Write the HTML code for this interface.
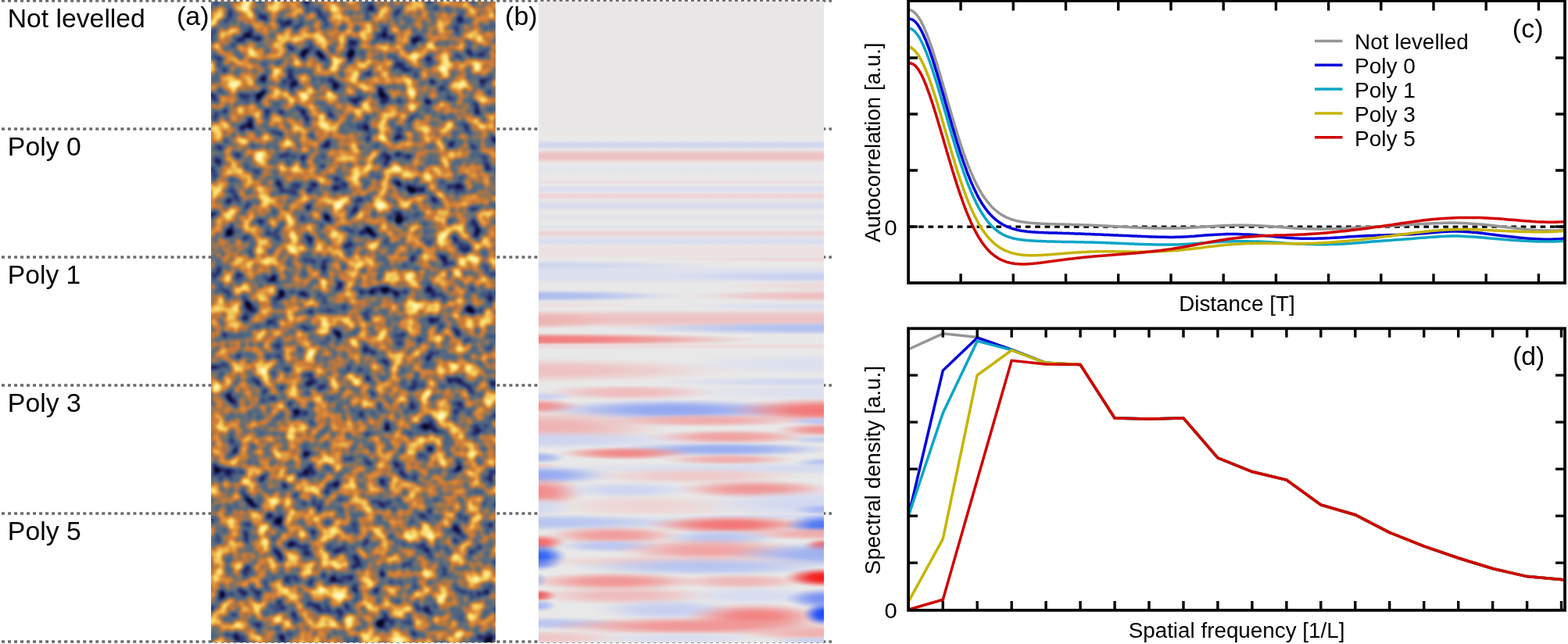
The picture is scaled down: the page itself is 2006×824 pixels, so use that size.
<!DOCTYPE html>
<html><head><meta charset="utf-8"><title>Levelling figure</title>
<style>html,body{margin:0;padding:0;background:#fff;overflow:hidden}svg{display:block}</style>
</head><body>
<svg width="2006" height="824" viewBox="0 0 2006 824" font-family="'Liberation Sans', Arial, sans-serif">
<defs>
<clipPath id="cc"><rect x="1162" y="1" width="840" height="360.5"/></clipPath>
<clipPath id="cd"><rect x="1162" y="420.3" width="840" height="360.2"/></clipPath>
<filter id="nz" x="-3%" y="-1%" width="106%" height="102%" color-interpolation-filters="sRGB">
<feTurbulence type="fractalNoise" baseFrequency="0.052" numOctaves="2" seed="7"/>
<feColorMatrix type="matrix" values="1 0 0 0 0 1 0 0 0 0 1 0 0 0 0 0 0 0 0 1"/>
<feComponentTransfer>
<feFuncR type="table" tableValues="0.031 0.031 0.031 0.031 0.031 0.031 0.031 0.031 0.071 0.113 0.143 0.174 0.204 0.234 0.265 0.296 0.331 0.366 0.401 0.492 0.596 0.683 0.771 0.808 0.841 0.874 0.904 0.934 0.953 0.968 0.982 0.988 0.994 1.000 1.000 1.000 1.000 1.000 1.000 1.000 1.000"/>
<feFuncG type="table" tableValues="0.031 0.031 0.031 0.031 0.031 0.031 0.031 0.031 0.071 0.114 0.161 0.208 0.256 0.304 0.352 0.394 0.408 0.422 0.437 0.446 0.455 0.463 0.470 0.499 0.529 0.576 0.652 0.728 0.783 0.831 0.877 0.910 0.943 0.973 0.973 0.973 0.973 0.973 0.973 0.973 0.973"/>
<feFuncB type="table" tableValues="0.118 0.118 0.118 0.118 0.118 0.118 0.118 0.118 0.227 0.342 0.386 0.430 0.468 0.488 0.508 0.522 0.504 0.485 0.466 0.403 0.329 0.276 0.223 0.222 0.225 0.239 0.273 0.306 0.351 0.400 0.458 0.557 0.656 0.745 0.745 0.745 0.745 0.745 0.745 0.745 0.745"/>
</feComponentTransfer>
<feGaussianBlur stdDeviation="1.3"/>
</filter>
</defs>
<rect width="2006" height="824" fill="#fff"/>

<line x1="2" y1="1" x2="1064" y2="1" stroke="#6b6b6b" stroke-width="3.5" stroke-dasharray="4 4.018"/>
<line x1="2" y1="165" x2="1064" y2="165" stroke="#6b6b6b" stroke-width="3.5" stroke-dasharray="4 4.018"/>
<line x1="2" y1="329" x2="1064" y2="329" stroke="#6b6b6b" stroke-width="3.5" stroke-dasharray="4 4.018"/>
<line x1="2" y1="493" x2="1064" y2="493" stroke="#6b6b6b" stroke-width="3.5" stroke-dasharray="4 4.018"/>
<line x1="2" y1="657" x2="1064" y2="657" stroke="#6b6b6b" stroke-width="3.5" stroke-dasharray="4 4.018"/>
<line x1="2" y1="821" x2="1064" y2="821" stroke="#6b6b6b" stroke-width="3.5" stroke-dasharray="4 4.018"/>
<clipPath id="ca"><rect x="270" y="2" width="364" height="820"/></clipPath>
<g clip-path="url(#ca)"><rect x="270" y="2" width="364" height="820" filter="url(#nz)"/></g>

<rect x="689" y="2" width="365" height="820" fill="#e9e6e8"/>
<rect x="689" y="166" width="365" height="656" fill="#e9e8e8"/>
<defs><linearGradient id="g0" x1="0" y1="0" x2="0" y2="1"><stop offset="0" stop-color="#ece7e2" stop-opacity="0"/><stop offset=".1" stop-color="#ece7e2" stop-opacity=".22"/><stop offset=".2" stop-color="#ece7e2" stop-opacity=".55"/><stop offset=".325" stop-color="#ece7e2" stop-opacity=".88"/><stop offset=".5" stop-color="#ece7e2"/><stop offset=".675" stop-color="#ece7e2" stop-opacity=".88"/><stop offset=".8" stop-color="#ece7e2" stop-opacity=".55"/><stop offset=".9" stop-color="#ece7e2" stop-opacity=".22"/><stop offset="1" stop-color="#ece7e2" stop-opacity="0"/></linearGradient><linearGradient id="g1" x1="0" y1="0" x2="0" y2="1"><stop offset="0" stop-color="#d0d7f1" stop-opacity="0"/><stop offset=".1" stop-color="#d0d7f1" stop-opacity=".22"/><stop offset=".2" stop-color="#d0d7f1" stop-opacity=".55"/><stop offset=".325" stop-color="#d0d7f1" stop-opacity=".88"/><stop offset=".5" stop-color="#d0d7f1"/><stop offset=".675" stop-color="#d0d7f1" stop-opacity=".88"/><stop offset=".8" stop-color="#d0d7f1" stop-opacity=".55"/><stop offset=".9" stop-color="#d0d7f1" stop-opacity=".22"/><stop offset="1" stop-color="#d0d7f1" stop-opacity="0"/></linearGradient><linearGradient id="g2" x1="0" y1="0" x2="0" y2="1"><stop offset="0" stop-color="#eec0c2" stop-opacity="0"/><stop offset=".1" stop-color="#eec0c2" stop-opacity=".22"/><stop offset=".2" stop-color="#eec0c2" stop-opacity=".55"/><stop offset=".325" stop-color="#eec0c2" stop-opacity=".88"/><stop offset=".5" stop-color="#eec0c2"/><stop offset=".675" stop-color="#eec0c2" stop-opacity=".88"/><stop offset=".8" stop-color="#eec0c2" stop-opacity=".55"/><stop offset=".9" stop-color="#eec0c2" stop-opacity=".22"/><stop offset="1" stop-color="#eec0c2" stop-opacity="0"/></linearGradient><linearGradient id="g3" x1="0" y1="0" x2="0" y2="1"><stop offset="0" stop-color="#e3e5ed" stop-opacity="0"/><stop offset=".1" stop-color="#e3e5ed" stop-opacity=".22"/><stop offset=".2" stop-color="#e3e5ed" stop-opacity=".55"/><stop offset=".325" stop-color="#e3e5ed" stop-opacity=".88"/><stop offset=".5" stop-color="#e3e5ed"/><stop offset=".675" stop-color="#e3e5ed" stop-opacity=".88"/><stop offset=".8" stop-color="#e3e5ed" stop-opacity=".55"/><stop offset=".9" stop-color="#e3e5ed" stop-opacity=".22"/><stop offset="1" stop-color="#e3e5ed" stop-opacity="0"/></linearGradient><linearGradient id="g4" x1="0" y1="0" x2="0" y2="1"><stop offset="0" stop-color="#eddee1" stop-opacity="0"/><stop offset=".1" stop-color="#eddee1" stop-opacity=".22"/><stop offset=".2" stop-color="#eddee1" stop-opacity=".55"/><stop offset=".325" stop-color="#eddee1" stop-opacity=".88"/><stop offset=".5" stop-color="#eddee1"/><stop offset=".675" stop-color="#eddee1" stop-opacity=".88"/><stop offset=".8" stop-color="#eddee1" stop-opacity=".55"/><stop offset=".9" stop-color="#eddee1" stop-opacity=".22"/><stop offset="1" stop-color="#eddee1" stop-opacity="0"/></linearGradient><linearGradient id="g5" x1="0" y1="0" x2="0" y2="1"><stop offset="0" stop-color="#dadeef" stop-opacity="0"/><stop offset=".1" stop-color="#dadeef" stop-opacity=".22"/><stop offset=".2" stop-color="#dadeef" stop-opacity=".55"/><stop offset=".325" stop-color="#dadeef" stop-opacity=".88"/><stop offset=".5" stop-color="#dadeef"/><stop offset=".675" stop-color="#dadeef" stop-opacity=".88"/><stop offset=".8" stop-color="#dadeef" stop-opacity=".55"/><stop offset=".9" stop-color="#dadeef" stop-opacity=".22"/><stop offset="1" stop-color="#dadeef" stop-opacity="0"/></linearGradient><linearGradient id="g6" x1="0" y1="0" x2="0" y2="1"><stop offset="0" stop-color="#eed3d5" stop-opacity="0"/><stop offset=".1" stop-color="#eed3d5" stop-opacity=".22"/><stop offset=".2" stop-color="#eed3d5" stop-opacity=".55"/><stop offset=".325" stop-color="#eed3d5" stop-opacity=".88"/><stop offset=".5" stop-color="#eed3d5"/><stop offset=".675" stop-color="#eed3d5" stop-opacity=".88"/><stop offset=".8" stop-color="#eed3d5" stop-opacity=".55"/><stop offset=".9" stop-color="#eed3d5" stop-opacity=".22"/><stop offset="1" stop-color="#eed3d5" stop-opacity="0"/></linearGradient><linearGradient id="g7" x1="0" y1="0" x2="0" y2="1"><stop offset="0" stop-color="#d8dcee" stop-opacity="0"/><stop offset=".1" stop-color="#d8dcee" stop-opacity=".22"/><stop offset=".2" stop-color="#d8dcee" stop-opacity=".55"/><stop offset=".325" stop-color="#d8dcee" stop-opacity=".88"/><stop offset=".5" stop-color="#d8dcee"/><stop offset=".675" stop-color="#d8dcee" stop-opacity=".88"/><stop offset=".8" stop-color="#d8dcee" stop-opacity=".55"/><stop offset=".9" stop-color="#d8dcee" stop-opacity=".22"/><stop offset="1" stop-color="#d8dcee" stop-opacity="0"/></linearGradient><linearGradient id="g8" x1="0" y1="0" x2="0" y2="1"><stop offset="0" stop-color="#e2e4eb" stop-opacity="0"/><stop offset=".1" stop-color="#e2e4eb" stop-opacity=".22"/><stop offset=".2" stop-color="#e2e4eb" stop-opacity=".55"/><stop offset=".325" stop-color="#e2e4eb" stop-opacity=".88"/><stop offset=".5" stop-color="#e2e4eb"/><stop offset=".675" stop-color="#e2e4eb" stop-opacity=".88"/><stop offset=".8" stop-color="#e2e4eb" stop-opacity=".55"/><stop offset=".9" stop-color="#e2e4eb" stop-opacity=".22"/><stop offset="1" stop-color="#e2e4eb" stop-opacity="0"/></linearGradient><linearGradient id="g9" x1="0" y1="0" x2="0" y2="1"><stop offset="0" stop-color="#e1e2eb" stop-opacity="0"/><stop offset=".1" stop-color="#e1e2eb" stop-opacity=".22"/><stop offset=".2" stop-color="#e1e2eb" stop-opacity=".55"/><stop offset=".325" stop-color="#e1e2eb" stop-opacity=".88"/><stop offset=".5" stop-color="#e1e2eb"/><stop offset=".675" stop-color="#e1e2eb" stop-opacity=".88"/><stop offset=".8" stop-color="#e1e2eb" stop-opacity=".55"/><stop offset=".9" stop-color="#e1e2eb" stop-opacity=".22"/><stop offset="1" stop-color="#e1e2eb" stop-opacity="0"/></linearGradient><linearGradient id="g10" x1="0" y1="0" x2="0" y2="1"><stop offset="0" stop-color="#edd2d4" stop-opacity="0"/><stop offset=".1" stop-color="#edd2d4" stop-opacity=".22"/><stop offset=".2" stop-color="#edd2d4" stop-opacity=".55"/><stop offset=".325" stop-color="#edd2d4" stop-opacity=".88"/><stop offset=".5" stop-color="#edd2d4"/><stop offset=".675" stop-color="#edd2d4" stop-opacity=".88"/><stop offset=".8" stop-color="#edd2d4" stop-opacity=".55"/><stop offset=".9" stop-color="#edd2d4" stop-opacity=".22"/><stop offset="1" stop-color="#edd2d4" stop-opacity="0"/></linearGradient><linearGradient id="g11" x1="0" y1="0" x2="0" y2="1"><stop offset="0" stop-color="#d9ddef" stop-opacity="0"/><stop offset=".1" stop-color="#d9ddef" stop-opacity=".22"/><stop offset=".2" stop-color="#d9ddef" stop-opacity=".55"/><stop offset=".325" stop-color="#d9ddef" stop-opacity=".88"/><stop offset=".5" stop-color="#d9ddef"/><stop offset=".675" stop-color="#d9ddef" stop-opacity=".88"/><stop offset=".8" stop-color="#d9ddef" stop-opacity=".55"/><stop offset=".9" stop-color="#d9ddef" stop-opacity=".22"/><stop offset="1" stop-color="#d9ddef" stop-opacity="0"/></linearGradient><linearGradient id="g12" x1="0" y1="0" x2="0" y2="1"><stop offset="0" stop-color="#ede0e0" stop-opacity="0"/><stop offset=".1" stop-color="#ede0e0" stop-opacity=".22"/><stop offset=".2" stop-color="#ede0e0" stop-opacity=".55"/><stop offset=".325" stop-color="#ede0e0" stop-opacity=".88"/><stop offset=".5" stop-color="#ede0e0"/><stop offset=".675" stop-color="#ede0e0" stop-opacity=".88"/><stop offset=".8" stop-color="#ede0e0" stop-opacity=".55"/><stop offset=".9" stop-color="#ede0e0" stop-opacity=".22"/><stop offset="1" stop-color="#ede0e0" stop-opacity="0"/></linearGradient><radialGradient id="g13"><stop offset="0" stop-color="#edd6d8"/><stop offset=".35" stop-color="#edd6d8" stop-opacity=".88"/><stop offset=".6" stop-color="#edd6d8" stop-opacity=".55"/><stop offset=".8" stop-color="#edd6d8" stop-opacity=".22"/><stop offset="1" stop-color="#edd6d8" stop-opacity="0"/></radialGradient><radialGradient id="g14"><stop offset="0" stop-color="#ced5ef"/><stop offset=".35" stop-color="#ced5ef" stop-opacity=".88"/><stop offset=".6" stop-color="#ced5ef" stop-opacity=".55"/><stop offset=".8" stop-color="#ced5ef" stop-opacity=".22"/><stop offset="1" stop-color="#ced5ef" stop-opacity="0"/></radialGradient><linearGradient id="g15" x1="0" y1="0" x2="0" y2="1"><stop offset="0" stop-color="#dbdfef" stop-opacity="0"/><stop offset=".1" stop-color="#dbdfef" stop-opacity=".22"/><stop offset=".2" stop-color="#dbdfef" stop-opacity=".55"/><stop offset=".325" stop-color="#dbdfef" stop-opacity=".88"/><stop offset=".5" stop-color="#dbdfef"/><stop offset=".675" stop-color="#dbdfef" stop-opacity=".88"/><stop offset=".8" stop-color="#dbdfef" stop-opacity=".55"/><stop offset=".9" stop-color="#dbdfef" stop-opacity=".22"/><stop offset="1" stop-color="#dbdfef" stop-opacity="0"/></linearGradient><radialGradient id="g16"><stop offset="0" stop-color="#c8d0f1"/><stop offset=".35" stop-color="#c8d0f1" stop-opacity=".88"/><stop offset=".6" stop-color="#c8d0f1" stop-opacity=".55"/><stop offset=".8" stop-color="#c8d0f1" stop-opacity=".22"/><stop offset="1" stop-color="#c8d0f1" stop-opacity="0"/></radialGradient><radialGradient id="g17"><stop offset="0" stop-color="#eddadc"/><stop offset=".35" stop-color="#eddadc" stop-opacity=".88"/><stop offset=".6" stop-color="#eddadc" stop-opacity=".55"/><stop offset=".8" stop-color="#eddadc" stop-opacity=".22"/><stop offset="1" stop-color="#eddadc" stop-opacity="0"/></radialGradient><radialGradient id="g18"><stop offset="0" stop-color="#acbcef"/><stop offset=".35" stop-color="#acbcef" stop-opacity=".88"/><stop offset=".6" stop-color="#acbcef" stop-opacity=".55"/><stop offset=".8" stop-color="#acbcef" stop-opacity=".22"/><stop offset="1" stop-color="#acbcef" stop-opacity="0"/></radialGradient><radialGradient id="g19"><stop offset="0" stop-color="#efbec0"/><stop offset=".35" stop-color="#efbec0" stop-opacity=".88"/><stop offset=".6" stop-color="#efbec0" stop-opacity=".55"/><stop offset=".8" stop-color="#efbec0" stop-opacity=".22"/><stop offset="1" stop-color="#efbec0" stop-opacity="0"/></radialGradient><radialGradient id="g20"><stop offset="0" stop-color="#eddee0"/><stop offset=".35" stop-color="#eddee0" stop-opacity=".88"/><stop offset=".6" stop-color="#eddee0" stop-opacity=".55"/><stop offset=".8" stop-color="#eddee0" stop-opacity=".22"/><stop offset="1" stop-color="#eddee0" stop-opacity="0"/></radialGradient><radialGradient id="g21"><stop offset="0" stop-color="#daddef"/><stop offset=".35" stop-color="#daddef" stop-opacity=".88"/><stop offset=".6" stop-color="#daddef" stop-opacity=".55"/><stop offset=".8" stop-color="#daddef" stop-opacity=".22"/><stop offset="1" stop-color="#daddef" stop-opacity="0"/></radialGradient><linearGradient id="g22" x1="0" y1="0" x2="0" y2="1"><stop offset="0" stop-color="#eec0c0" stop-opacity="0"/><stop offset=".1" stop-color="#eec0c0" stop-opacity=".22"/><stop offset=".2" stop-color="#eec0c0" stop-opacity=".55"/><stop offset=".325" stop-color="#eec0c0" stop-opacity=".88"/><stop offset=".5" stop-color="#eec0c0"/><stop offset=".675" stop-color="#eec0c0" stop-opacity=".88"/><stop offset=".8" stop-color="#eec0c0" stop-opacity=".55"/><stop offset=".9" stop-color="#eec0c0" stop-opacity=".22"/><stop offset="1" stop-color="#eec0c0" stop-opacity="0"/></linearGradient><radialGradient id="g23"><stop offset="0" stop-color="#eeb4b4"/><stop offset=".35" stop-color="#eeb4b4" stop-opacity=".88"/><stop offset=".6" stop-color="#eeb4b4" stop-opacity=".55"/><stop offset=".8" stop-color="#eeb4b4" stop-opacity=".22"/><stop offset="1" stop-color="#eeb4b4" stop-opacity="0"/></radialGradient><radialGradient id="g24"><stop offset="0" stop-color="#b0c0f1"/><stop offset=".35" stop-color="#b0c0f1" stop-opacity=".88"/><stop offset=".6" stop-color="#b0c0f1" stop-opacity=".55"/><stop offset=".8" stop-color="#b0c0f1" stop-opacity=".22"/><stop offset="1" stop-color="#b0c0f1" stop-opacity="0"/></radialGradient><radialGradient id="g25"><stop offset="0" stop-color="#f37a7a"/><stop offset=".35" stop-color="#f37a7a" stop-opacity=".88"/><stop offset=".6" stop-color="#f37a7a" stop-opacity=".55"/><stop offset=".8" stop-color="#f37a7a" stop-opacity=".22"/><stop offset="1" stop-color="#f37a7a" stop-opacity="0"/></radialGradient><linearGradient id="g26" x1="0" y1="0" x2="0" y2="1"><stop offset="0" stop-color="#eddada" stop-opacity="0"/><stop offset=".1" stop-color="#eddada" stop-opacity=".22"/><stop offset=".2" stop-color="#eddada" stop-opacity=".55"/><stop offset=".325" stop-color="#eddada" stop-opacity=".88"/><stop offset=".5" stop-color="#eddada"/><stop offset=".675" stop-color="#eddada" stop-opacity=".88"/><stop offset=".8" stop-color="#eddada" stop-opacity=".55"/><stop offset=".9" stop-color="#eddada" stop-opacity=".22"/><stop offset="1" stop-color="#eddada" stop-opacity="0"/></linearGradient><radialGradient id="g27"><stop offset="0" stop-color="#dbe0ef"/><stop offset=".35" stop-color="#dbe0ef" stop-opacity=".88"/><stop offset=".6" stop-color="#dbe0ef" stop-opacity=".55"/><stop offset=".8" stop-color="#dbe0ef" stop-opacity=".22"/><stop offset="1" stop-color="#dbe0ef" stop-opacity="0"/></radialGradient><radialGradient id="g28"><stop offset="0" stop-color="#efc0c0"/><stop offset=".35" stop-color="#efc0c0" stop-opacity=".88"/><stop offset=".6" stop-color="#efc0c0" stop-opacity=".55"/><stop offset=".8" stop-color="#efc0c0" stop-opacity=".22"/><stop offset="1" stop-color="#efc0c0" stop-opacity="0"/></radialGradient><radialGradient id="g29"><stop offset="0" stop-color="#d0d7f1"/><stop offset=".35" stop-color="#d0d7f1" stop-opacity=".88"/><stop offset=".6" stop-color="#d0d7f1" stop-opacity=".55"/><stop offset=".8" stop-color="#d0d7f1" stop-opacity=".22"/><stop offset="1" stop-color="#d0d7f1" stop-opacity="0"/></radialGradient><radialGradient id="g30"><stop offset="0" stop-color="#dce0ef"/><stop offset=".35" stop-color="#dce0ef" stop-opacity=".88"/><stop offset=".6" stop-color="#dce0ef" stop-opacity=".55"/><stop offset=".8" stop-color="#dce0ef" stop-opacity=".22"/><stop offset="1" stop-color="#dce0ef" stop-opacity="0"/></radialGradient><radialGradient id="g31"><stop offset="0" stop-color="#efbabc"/><stop offset=".35" stop-color="#efbabc" stop-opacity=".88"/><stop offset=".6" stop-color="#efbabc" stop-opacity=".55"/><stop offset=".8" stop-color="#efbabc" stop-opacity=".22"/><stop offset="1" stop-color="#efbabc" stop-opacity="0"/></radialGradient><radialGradient id="g32"><stop offset="0" stop-color="#c8d1f1"/><stop offset=".35" stop-color="#c8d1f1" stop-opacity=".88"/><stop offset=".6" stop-color="#c8d1f1" stop-opacity=".55"/><stop offset=".8" stop-color="#c8d1f1" stop-opacity=".22"/><stop offset="1" stop-color="#c8d1f1" stop-opacity="0"/></radialGradient><radialGradient id="g33"><stop offset="0" stop-color="#f19191"/><stop offset=".35" stop-color="#f19191" stop-opacity=".88"/><stop offset=".6" stop-color="#f19191" stop-opacity=".55"/><stop offset=".8" stop-color="#f19191" stop-opacity=".22"/><stop offset="1" stop-color="#f19191" stop-opacity="0"/></radialGradient><radialGradient id="g34"><stop offset="0" stop-color="#91a6f1"/><stop offset=".35" stop-color="#91a6f1" stop-opacity=".88"/><stop offset=".6" stop-color="#91a6f1" stop-opacity=".55"/><stop offset=".8" stop-color="#91a6f1" stop-opacity=".22"/><stop offset="1" stop-color="#91a6f1" stop-opacity="0"/></radialGradient><radialGradient id="g35"><stop offset="0" stop-color="#f37373"/><stop offset=".35" stop-color="#f37373" stop-opacity=".88"/><stop offset=".6" stop-color="#f37373" stop-opacity=".55"/><stop offset=".8" stop-color="#f37373" stop-opacity=".22"/><stop offset="1" stop-color="#f37373" stop-opacity="0"/></radialGradient><radialGradient id="g36"><stop offset="0" stop-color="#efb2b2"/><stop offset=".35" stop-color="#efb2b2" stop-opacity=".88"/><stop offset=".6" stop-color="#efb2b2" stop-opacity=".55"/><stop offset=".8" stop-color="#efb2b2" stop-opacity=".22"/><stop offset="1" stop-color="#efb2b2" stop-opacity="0"/></radialGradient><radialGradient id="g37"><stop offset="0" stop-color="#f0aaaa"/><stop offset=".35" stop-color="#f0aaaa" stop-opacity=".88"/><stop offset=".6" stop-color="#f0aaaa" stop-opacity=".55"/><stop offset=".8" stop-color="#f0aaaa" stop-opacity=".22"/><stop offset="1" stop-color="#f0aaaa" stop-opacity="0"/></radialGradient><radialGradient id="g38"><stop offset="0" stop-color="#bac6f1"/><stop offset=".35" stop-color="#bac6f1" stop-opacity=".88"/><stop offset=".6" stop-color="#bac6f1" stop-opacity=".55"/><stop offset=".8" stop-color="#bac6f1" stop-opacity=".22"/><stop offset="1" stop-color="#bac6f1" stop-opacity="0"/></radialGradient><radialGradient id="g39"><stop offset="0" stop-color="#ced5f1"/><stop offset=".35" stop-color="#ced5f1" stop-opacity=".88"/><stop offset=".6" stop-color="#ced5f1" stop-opacity=".55"/><stop offset=".8" stop-color="#ced5f1" stop-opacity=".22"/><stop offset="1" stop-color="#ced5f1" stop-opacity="0"/></radialGradient><radialGradient id="g40"><stop offset="0" stop-color="#f0a0a0"/><stop offset=".35" stop-color="#f0a0a0" stop-opacity=".88"/><stop offset=".6" stop-color="#f0a0a0" stop-opacity=".55"/><stop offset=".8" stop-color="#f0a0a0" stop-opacity=".22"/><stop offset="1" stop-color="#f0a0a0" stop-opacity="0"/></radialGradient><radialGradient id="g41"><stop offset="0" stop-color="#c4cef1"/><stop offset=".35" stop-color="#c4cef1" stop-opacity=".88"/><stop offset=".6" stop-color="#c4cef1" stop-opacity=".55"/><stop offset=".8" stop-color="#c4cef1" stop-opacity=".22"/><stop offset="1" stop-color="#c4cef1" stop-opacity="0"/></radialGradient><radialGradient id="g42"><stop offset="0" stop-color="#98acf1"/><stop offset=".35" stop-color="#98acf1" stop-opacity=".88"/><stop offset=".6" stop-color="#98acf1" stop-opacity=".55"/><stop offset=".8" stop-color="#98acf1" stop-opacity=".22"/><stop offset="1" stop-color="#98acf1" stop-opacity="0"/></radialGradient><radialGradient id="g43"><stop offset="0" stop-color="#f18787"/><stop offset=".35" stop-color="#f18787" stop-opacity=".88"/><stop offset=".6" stop-color="#f18787" stop-opacity=".55"/><stop offset=".8" stop-color="#f18787" stop-opacity=".22"/><stop offset="1" stop-color="#f18787" stop-opacity="0"/></radialGradient><radialGradient id="g44"><stop offset="0" stop-color="#efacac"/><stop offset=".35" stop-color="#efacac" stop-opacity=".88"/><stop offset=".6" stop-color="#efacac" stop-opacity=".55"/><stop offset=".8" stop-color="#efacac" stop-opacity=".22"/><stop offset="1" stop-color="#efacac" stop-opacity="0"/></radialGradient><radialGradient id="g45"><stop offset="0" stop-color="#a5b6f1"/><stop offset=".35" stop-color="#a5b6f1" stop-opacity=".88"/><stop offset=".6" stop-color="#a5b6f1" stop-opacity=".55"/><stop offset=".8" stop-color="#a5b6f1" stop-opacity=".22"/><stop offset="1" stop-color="#a5b6f1" stop-opacity="0"/></radialGradient><radialGradient id="g46"><stop offset="0" stop-color="#edd0d0"/><stop offset=".35" stop-color="#edd0d0" stop-opacity=".88"/><stop offset=".6" stop-color="#edd0d0" stop-opacity=".55"/><stop offset=".8" stop-color="#edd0d0" stop-opacity=".22"/><stop offset="1" stop-color="#edd0d0" stop-opacity="0"/></radialGradient><radialGradient id="g47"><stop offset="0" stop-color="#d6dbef"/><stop offset=".35" stop-color="#d6dbef" stop-opacity=".88"/><stop offset=".6" stop-color="#d6dbef" stop-opacity=".55"/><stop offset=".8" stop-color="#d6dbef" stop-opacity=".22"/><stop offset="1" stop-color="#d6dbef" stop-opacity="0"/></radialGradient><radialGradient id="g48"><stop offset="0" stop-color="#94a8f1"/><stop offset=".35" stop-color="#94a8f1" stop-opacity=".88"/><stop offset=".6" stop-color="#94a8f1" stop-opacity=".55"/><stop offset=".8" stop-color="#94a8f1" stop-opacity=".22"/><stop offset="1" stop-color="#94a8f1" stop-opacity="0"/></radialGradient><radialGradient id="g49"><stop offset="0" stop-color="#eec8c8"/><stop offset=".35" stop-color="#eec8c8" stop-opacity=".88"/><stop offset=".6" stop-color="#eec8c8" stop-opacity=".55"/><stop offset=".8" stop-color="#eec8c8" stop-opacity=".22"/><stop offset="1" stop-color="#eec8c8" stop-opacity="0"/></radialGradient><radialGradient id="g50"><stop offset="0" stop-color="#f18a8a"/><stop offset=".35" stop-color="#f18a8a" stop-opacity=".88"/><stop offset=".6" stop-color="#f18a8a" stop-opacity=".55"/><stop offset=".8" stop-color="#f18a8a" stop-opacity=".22"/><stop offset="1" stop-color="#f18a8a" stop-opacity="0"/></radialGradient><radialGradient id="g51"><stop offset="0" stop-color="#f19494"/><stop offset=".35" stop-color="#f19494" stop-opacity=".88"/><stop offset=".6" stop-color="#f19494" stop-opacity=".55"/><stop offset=".8" stop-color="#f19494" stop-opacity=".22"/><stop offset="1" stop-color="#f19494" stop-opacity="0"/></radialGradient><radialGradient id="g52"><stop offset="0" stop-color="#eed4d4"/><stop offset=".35" stop-color="#eed4d4" stop-opacity=".88"/><stop offset=".6" stop-color="#eed4d4" stop-opacity=".55"/><stop offset=".8" stop-color="#eed4d4" stop-opacity=".22"/><stop offset="1" stop-color="#eed4d4" stop-opacity="0"/></radialGradient><radialGradient id="g53"><stop offset="0" stop-color="#a8b8f1"/><stop offset=".35" stop-color="#a8b8f1" stop-opacity=".88"/><stop offset=".6" stop-color="#a8b8f1" stop-opacity=".55"/><stop offset=".8" stop-color="#a8b8f1" stop-opacity=".22"/><stop offset="1" stop-color="#a8b8f1" stop-opacity="0"/></radialGradient><radialGradient id="g54"><stop offset="0" stop-color="#d4daf1"/><stop offset=".35" stop-color="#d4daf1" stop-opacity=".88"/><stop offset=".6" stop-color="#d4daf1" stop-opacity=".55"/><stop offset=".8" stop-color="#d4daf1" stop-opacity=".22"/><stop offset="1" stop-color="#d4daf1" stop-opacity="0"/></radialGradient><radialGradient id="g55"><stop offset="0" stop-color="#d6dbf0"/><stop offset=".35" stop-color="#d6dbf0" stop-opacity=".88"/><stop offset=".6" stop-color="#d6dbf0" stop-opacity=".55"/><stop offset=".8" stop-color="#d6dbf0" stop-opacity=".22"/><stop offset="1" stop-color="#d6dbf0" stop-opacity="0"/></radialGradient><radialGradient id="g56"><stop offset="0" stop-color="#b6c4f1"/><stop offset=".35" stop-color="#b6c4f1" stop-opacity=".88"/><stop offset=".6" stop-color="#b6c4f1" stop-opacity=".55"/><stop offset=".8" stop-color="#b6c4f1" stop-opacity=".22"/><stop offset="1" stop-color="#b6c4f1" stop-opacity="0"/></radialGradient><radialGradient id="g57"><stop offset="0" stop-color="#f27373"/><stop offset=".35" stop-color="#f27373" stop-opacity=".88"/><stop offset=".6" stop-color="#f27373" stop-opacity=".55"/><stop offset=".8" stop-color="#f27373" stop-opacity=".22"/><stop offset="1" stop-color="#f27373" stop-opacity="0"/></radialGradient><radialGradient id="g58"><stop offset="0" stop-color="#4b76f3"/><stop offset=".35" stop-color="#4b76f3" stop-opacity=".88"/><stop offset=".6" stop-color="#4b76f3" stop-opacity=".55"/><stop offset=".8" stop-color="#4b76f3" stop-opacity=".22"/><stop offset="1" stop-color="#4b76f3" stop-opacity="0"/></radialGradient><radialGradient id="g59"><stop offset="0" stop-color="#f19b9b"/><stop offset=".35" stop-color="#f19b9b" stop-opacity=".88"/><stop offset=".6" stop-color="#f19b9b" stop-opacity=".55"/><stop offset=".8" stop-color="#f19b9b" stop-opacity=".22"/><stop offset="1" stop-color="#f19b9b" stop-opacity="0"/></radialGradient><radialGradient id="g60"><stop offset="0" stop-color="#f0acac"/><stop offset=".35" stop-color="#f0acac" stop-opacity=".88"/><stop offset=".6" stop-color="#f0acac" stop-opacity=".55"/><stop offset=".8" stop-color="#f0acac" stop-opacity=".22"/><stop offset="1" stop-color="#f0acac" stop-opacity="0"/></radialGradient><radialGradient id="g61"><stop offset="0" stop-color="#f36969"/><stop offset=".35" stop-color="#f36969" stop-opacity=".88"/><stop offset=".6" stop-color="#f36969" stop-opacity=".55"/><stop offset=".8" stop-color="#f36969" stop-opacity=".22"/><stop offset="1" stop-color="#f36969" stop-opacity="0"/></radialGradient><radialGradient id="g62"><stop offset="0" stop-color="#f55555"/><stop offset=".35" stop-color="#f55555" stop-opacity=".88"/><stop offset=".6" stop-color="#f55555" stop-opacity=".55"/><stop offset=".8" stop-color="#f55555" stop-opacity=".22"/><stop offset="1" stop-color="#f55555" stop-opacity="0"/></radialGradient><radialGradient id="g63"><stop offset="0" stop-color="#f1a2a2"/><stop offset=".35" stop-color="#f1a2a2" stop-opacity=".88"/><stop offset=".6" stop-color="#f1a2a2" stop-opacity=".55"/><stop offset=".8" stop-color="#f1a2a2" stop-opacity=".22"/><stop offset="1" stop-color="#f1a2a2" stop-opacity="0"/></radialGradient><radialGradient id="g64"><stop offset="0" stop-color="#9cb0f1"/><stop offset=".35" stop-color="#9cb0f1" stop-opacity=".88"/><stop offset=".6" stop-color="#9cb0f1" stop-opacity=".55"/><stop offset=".8" stop-color="#9cb0f1" stop-opacity=".22"/><stop offset="1" stop-color="#9cb0f1" stop-opacity="0"/></radialGradient><radialGradient id="g65"><stop offset="0" stop-color="#2d5ff6"/><stop offset=".35" stop-color="#2d5ff6" stop-opacity=".88"/><stop offset=".6" stop-color="#2d5ff6" stop-opacity=".55"/><stop offset=".8" stop-color="#2d5ff6" stop-opacity=".22"/><stop offset="1" stop-color="#2d5ff6" stop-opacity="0"/></radialGradient><radialGradient id="g66"><stop offset="0" stop-color="#eecccc"/><stop offset=".35" stop-color="#eecccc" stop-opacity=".88"/><stop offset=".6" stop-color="#eecccc" stop-opacity=".55"/><stop offset=".8" stop-color="#eecccc" stop-opacity=".22"/><stop offset="1" stop-color="#eecccc" stop-opacity="0"/></radialGradient><radialGradient id="g67"><stop offset="0" stop-color="#efb6b6"/><stop offset=".35" stop-color="#efb6b6" stop-opacity=".88"/><stop offset=".6" stop-color="#efb6b6" stop-opacity=".55"/><stop offset=".8" stop-color="#efb6b6" stop-opacity=".22"/><stop offset="1" stop-color="#efb6b6" stop-opacity="0"/></radialGradient><radialGradient id="g68"><stop offset="0" stop-color="#f61414"/><stop offset=".35" stop-color="#f61414" stop-opacity=".88"/><stop offset=".6" stop-color="#f61414" stop-opacity=".55"/><stop offset=".8" stop-color="#f61414" stop-opacity=".22"/><stop offset="1" stop-color="#f61414" stop-opacity="0"/></radialGradient><radialGradient id="g69"><stop offset="0" stop-color="#f24e4e"/><stop offset=".35" stop-color="#f24e4e" stop-opacity=".88"/><stop offset=".6" stop-color="#f24e4e" stop-opacity=".55"/><stop offset=".8" stop-color="#f24e4e" stop-opacity=".22"/><stop offset="1" stop-color="#f24e4e" stop-opacity="0"/></radialGradient><radialGradient id="g70"><stop offset="0" stop-color="#efbaba"/><stop offset=".35" stop-color="#efbaba" stop-opacity=".88"/><stop offset=".6" stop-color="#efbaba" stop-opacity=".55"/><stop offset=".8" stop-color="#efbaba" stop-opacity=".22"/><stop offset="1" stop-color="#efbaba" stop-opacity="0"/></radialGradient><radialGradient id="g71"><stop offset="0" stop-color="#7690f3"/><stop offset=".35" stop-color="#7690f3" stop-opacity=".88"/><stop offset=".6" stop-color="#7690f3" stop-opacity=".55"/><stop offset=".8" stop-color="#7690f3" stop-opacity=".22"/><stop offset="1" stop-color="#7690f3" stop-opacity="0"/></radialGradient><radialGradient id="g72"><stop offset="0" stop-color="#c6cef1"/><stop offset=".35" stop-color="#c6cef1" stop-opacity=".88"/><stop offset=".6" stop-color="#c6cef1" stop-opacity=".55"/><stop offset=".8" stop-color="#c6cef1" stop-opacity=".22"/><stop offset="1" stop-color="#c6cef1" stop-opacity="0"/></radialGradient><radialGradient id="g73"><stop offset="0" stop-color="#f28080"/><stop offset=".35" stop-color="#f28080" stop-opacity=".88"/><stop offset=".6" stop-color="#f28080" stop-opacity=".55"/><stop offset=".8" stop-color="#f28080" stop-opacity=".22"/><stop offset="1" stop-color="#f28080" stop-opacity="0"/></radialGradient><radialGradient id="g74"><stop offset="0" stop-color="#1446fa"/><stop offset=".35" stop-color="#1446fa" stop-opacity=".88"/><stop offset=".6" stop-color="#1446fa" stop-opacity=".55"/><stop offset=".8" stop-color="#1446fa" stop-opacity=".22"/><stop offset="1" stop-color="#1446fa" stop-opacity="0"/></radialGradient><radialGradient id="g75"><stop offset="0" stop-color="#f0b0b0"/><stop offset=".35" stop-color="#f0b0b0" stop-opacity=".88"/><stop offset=".6" stop-color="#f0b0b0" stop-opacity=".55"/><stop offset=".8" stop-color="#f0b0b0" stop-opacity=".22"/><stop offset="1" stop-color="#f0b0b0" stop-opacity="0"/></radialGradient><radialGradient id="g76"><stop offset="0" stop-color="#eec6c6"/><stop offset=".35" stop-color="#eec6c6" stop-opacity=".88"/><stop offset=".6" stop-color="#eec6c6" stop-opacity=".55"/><stop offset=".8" stop-color="#eec6c6" stop-opacity=".22"/><stop offset="1" stop-color="#eec6c6" stop-opacity="0"/></radialGradient><radialGradient id="g77"><stop offset="0" stop-color="#d8ddef"/><stop offset=".35" stop-color="#d8ddef" stop-opacity=".88"/><stop offset=".6" stop-color="#d8ddef" stop-opacity=".55"/><stop offset=".8" stop-color="#d8ddef" stop-opacity=".22"/><stop offset="1" stop-color="#d8ddef" stop-opacity="0"/></radialGradient><radialGradient id="g78"><stop offset="0" stop-color="#c6d0f1"/><stop offset=".35" stop-color="#c6d0f1" stop-opacity=".88"/><stop offset=".6" stop-color="#c6d0f1" stop-opacity=".55"/><stop offset=".8" stop-color="#c6d0f1" stop-opacity=".22"/><stop offset="1" stop-color="#c6d0f1" stop-opacity="0"/></radialGradient></defs>
<clipPath id="cb0"><rect x="689" y="166" width="365" height="164"/></clipPath>
<g clip-path="url(#cb0)"><rect x="689" y="169.1" width="365" height="7.2" fill="url(#g0)"/><rect x="689" y="179.2" width="365" height="12.6" fill="url(#g1)"/><rect x="689" y="191.0" width="365" height="18.0" fill="url(#g2)"/><rect x="689" y="208.8" width="365" height="14.4" fill="url(#g3)"/><rect x="689" y="230.3" width="365" height="5.4" fill="url(#g4)"/><rect x="689" y="236.4" width="365" height="10.8" fill="url(#g5)"/><rect x="689" y="245.4" width="365" height="10.8" fill="url(#g6)"/><rect x="689" y="256.0" width="365" height="14.4" fill="url(#g7)"/><rect x="689" y="272.6" width="365" height="10.8" fill="url(#g8)"/><rect x="689" y="286.9" width="365" height="7.2" fill="url(#g9)"/><rect x="689" y="293.2" width="365" height="10.8" fill="url(#g10)"/><rect x="689" y="301.4" width="365" height="14.4" fill="url(#g11)"/><rect x="689" y="312.2" width="365" height="21.6" fill="url(#g12)"/></g>
<clipPath id="cb1"><rect x="689" y="330" width="365" height="164"/></clipPath>
<g clip-path="url(#cb1)"><ellipse cx="1054.0" cy="331.5" rx="247.1" ry="4.5" fill="url(#g13)"/><ellipse cx="689.0" cy="340.5" rx="244.4" ry="8.1" fill="url(#g14)"/><rect x="689" y="339.4" width="365" height="25.2" fill="url(#g15)"/><ellipse cx="1054.0" cy="354.0" rx="207.9" ry="7.2" fill="url(#g16)"/><ellipse cx="1054.0" cy="366.0" rx="140.4" ry="7.2" fill="url(#g17)"/><ellipse cx="689.0" cy="378.6" rx="190.4" ry="8.1" fill="url(#g18)"/><ellipse cx="1054.0" cy="378.6" rx="180.9" ry="8.1" fill="url(#g19)"/><ellipse cx="689.0" cy="390.0" rx="149.9" ry="4.5" fill="url(#g20)"/><ellipse cx="1054.0" cy="392.0" rx="207.9" ry="6.3" fill="url(#g21)"/><rect x="689" y="395.4" width="365" height="25.2" fill="url(#g22)"/><ellipse cx="689.0" cy="410.0" rx="95.9" ry="10.8" fill="url(#g23)"/><ellipse cx="1054.0" cy="420.0" rx="275.4" ry="9.0" fill="url(#g24)"/><ellipse cx="689.0" cy="434.5" rx="284.9" ry="9.0" fill="url(#g25)"/><rect x="689" y="438.5" width="365" height="9.0" fill="url(#g26)"/><ellipse cx="1054.0" cy="466.0" rx="207.9" ry="14.4" fill="url(#g27)"/><ellipse cx="689.0" cy="474.0" rx="257.9" ry="16.2" fill="url(#g28)"/><ellipse cx="1054.0" cy="488.5" rx="234.9" ry="7.2" fill="url(#g29)"/></g>
<clipPath id="cb2"><rect x="689" y="494" width="365" height="164"/></clipPath>
<g clip-path="url(#cb2)"><ellipse cx="1054.0" cy="502.0" rx="207.9" ry="12.6" fill="url(#g30)"/><ellipse cx="802.5" cy="502.0" rx="116.8" ry="10.8" fill="url(#g31)"/><ellipse cx="689.0" cy="507.5" rx="48.6" ry="6.3" fill="url(#g32)"/><ellipse cx="689.0" cy="520.0" rx="56.7" ry="9.9" fill="url(#g33)"/><ellipse cx="861.5" cy="524.5" rx="172.1" ry="14.4" fill="url(#g34)"/><ellipse cx="1054.0" cy="525.0" rx="124.2" ry="16.2" fill="url(#g35)"/><ellipse cx="689.0" cy="547.0" rx="171.5" ry="23.4" fill="url(#g36)"/><ellipse cx="902.5" cy="538.0" rx="141.1" ry="9.0" fill="url(#g37)"/><ellipse cx="1054.0" cy="539.0" rx="51.3" ry="6.3" fill="url(#g38)"/><ellipse cx="1054.0" cy="550.0" rx="63.5" ry="9.0" fill="url(#g33)"/><ellipse cx="689.0" cy="563.0" rx="221.4" ry="12.6" fill="url(#g39)"/><ellipse cx="934.5" cy="559.0" rx="110.0" ry="9.9" fill="url(#g40)"/><ellipse cx="1054.0" cy="562.5" rx="51.3" ry="6.3" fill="url(#g41)"/><ellipse cx="925.0" cy="575.0" rx="147.2" ry="9.9" fill="url(#g42)"/><ellipse cx="800.0" cy="580.0" rx="89.1" ry="9.0" fill="url(#g43)"/><ellipse cx="932.0" cy="588.0" rx="89.1" ry="8.1" fill="url(#g44)"/><ellipse cx="689.0" cy="585.5" rx="36.5" ry="8.1" fill="url(#g45)"/><ellipse cx="689.0" cy="596.0" rx="29.7" ry="3.6" fill="url(#g46)"/><ellipse cx="1054.0" cy="593.0" rx="39.2" ry="8.1" fill="url(#g24)"/><ellipse cx="1054.0" cy="599.5" rx="419.9" ry="9.0" fill="url(#g47)"/><ellipse cx="689.0" cy="608.0" rx="98.6" ry="12.6" fill="url(#g48)"/><ellipse cx="889.0" cy="609.0" rx="147.2" ry="10.8" fill="url(#g49)"/><ellipse cx="689.0" cy="630.0" rx="60.8" ry="19.8" fill="url(#g50)"/><ellipse cx="802.5" cy="627.0" rx="92.5" ry="11.7" fill="url(#g39)"/><ellipse cx="966.0" cy="626.0" rx="104.0" ry="12.6" fill="url(#g51)"/><ellipse cx="825.0" cy="648.0" rx="135.0" ry="16.2" fill="url(#g52)"/><ellipse cx="1054.0" cy="645.0" rx="174.2" ry="19.8" fill="url(#g29)"/><ellipse cx="1054.0" cy="652.0" rx="39.2" ry="7.2" fill="url(#g53)"/><ellipse cx="689.0" cy="649.0" rx="48.6" ry="13.5" fill="url(#g54)"/></g>
<clipPath id="cb3"><rect x="689" y="658" width="365" height="164"/></clipPath>
<g clip-path="url(#cb3)"><ellipse cx="1054.0" cy="661.0" rx="247.1" ry="4.5" fill="url(#g55)"/><ellipse cx="689.0" cy="668.5" rx="221.4" ry="11.7" fill="url(#g56)"/><ellipse cx="934.5" cy="671.4" rx="110.0" ry="12.6" fill="url(#g57)"/><ellipse cx="1054.0" cy="672.0" rx="51.3" ry="14.4" fill="url(#g58)"/><ellipse cx="784.5" cy="685.0" rx="92.5" ry="12.6" fill="url(#g59)"/><ellipse cx="1054.0" cy="683.0" rx="124.2" ry="9.0" fill="url(#g60)"/><ellipse cx="921.0" cy="688.0" rx="79.7" ry="10.8" fill="url(#g38)"/><ellipse cx="689.0" cy="694.0" rx="36.5" ry="10.8" fill="url(#g61)"/><ellipse cx="779.5" cy="698.6" rx="73.6" ry="9.0" fill="url(#g38)"/><ellipse cx="1054.0" cy="699.5" rx="27.0" ry="10.8" fill="url(#g62)"/><ellipse cx="907.0" cy="704.0" rx="122.9" ry="16.2" fill="url(#g63)"/><ellipse cx="1054.0" cy="709.5" rx="124.2" ry="16.2" fill="url(#g64)"/><ellipse cx="689.0" cy="713.0" rx="36.5" ry="18.0" fill="url(#g65)"/><ellipse cx="857.0" cy="718.5" rx="190.4" ry="9.0" fill="url(#g66)"/><ellipse cx="902.5" cy="725.0" rx="177.5" ry="12.6" fill="url(#g56)"/><ellipse cx="689.0" cy="742.0" rx="12.2" ry="9.0" fill="url(#g56)"/><ellipse cx="785.5" cy="744.0" rx="115.4" ry="12.6" fill="url(#g51)"/><ellipse cx="948.0" cy="744.0" rx="91.8" ry="10.8" fill="url(#g67)"/><ellipse cx="1054.0" cy="739.0" rx="51.3" ry="12.6" fill="url(#g68)"/><ellipse cx="689.0" cy="762.0" rx="24.3" ry="8.1" fill="url(#g69)"/><ellipse cx="798.0" cy="762.0" rx="122.9" ry="12.6" fill="url(#g70)"/><ellipse cx="961.5" cy="762.0" rx="97.9" ry="12.6" fill="url(#g47)"/><ellipse cx="1054.0" cy="766.0" rx="51.3" ry="13.5" fill="url(#g71)"/><ellipse cx="689.0" cy="775.0" rx="24.3" ry="8.1" fill="url(#g53)"/><ellipse cx="852.5" cy="780.0" rx="97.9" ry="14.4" fill="url(#g72)"/><ellipse cx="966.0" cy="789.0" rx="91.8" ry="18.0" fill="url(#g73)"/><ellipse cx="1054.0" cy="786.0" rx="27.0" ry="15.3" fill="url(#g74)"/><ellipse cx="689.0" cy="797.6" rx="122.9" ry="9.0" fill="url(#g38)"/><ellipse cx="888.5" cy="801.0" rx="196.4" ry="12.6" fill="url(#g51)"/><ellipse cx="1054.0" cy="810.0" rx="124.2" ry="10.8" fill="url(#g75)"/><ellipse cx="689.0" cy="816.0" rx="122.9" ry="10.8" fill="url(#g76)"/><ellipse cx="871.0" cy="817.0" rx="122.9" ry="9.0" fill="url(#g77)"/><ellipse cx="1054.0" cy="819.5" rx="75.6" ry="5.4" fill="url(#g78)"/></g>
<text transform="translate(9.66,34.90) scale(1.0041,1)" font-size="33.6">Not levelled</text>
<text transform="translate(9.85,198.90) scale(1.0054,1)" font-size="33.6">Poly 0</text>
<text x="9.87" y="362.90" font-size="33.6">Poly 1</text>
<text transform="translate(9.85,526.90) scale(1.0068,1)" font-size="33.6">Poly 3</text>
<text transform="translate(9.85,690.90) scale(1.0063,1)" font-size="33.6">Poly 5</text>
<text transform="translate(226.01,32.20) scale(1.0134,1)" font-size="33.6">(a)</text>
<text transform="translate(646.12,32.20) scale(1.0107,1)" font-size="33.6">(b)</text>
<text transform="translate(1934.82,47.80) scale(1.0123,1)" font-size="33.6">(c)</text>
<text transform="translate(1935.13,466.50) scale(1.0025,1)" font-size="33.6">(d)</text>
<g fill="none">
<line x1="1162.6" y1="290.1" x2="2002" y2="290.1" stroke="#000" stroke-width="3.4" stroke-dasharray="6.7 5.73"/>
<g clip-path="url(#cc)" stroke-width="3.5" stroke-linejoin="round"><path d="M1160.0,13.0 L1161.3,12.7 L1162.5,12.6 L1163.8,12.7 L1165.1,13.0 L1166.3,13.5 L1167.6,14.2 L1168.8,15.1 L1170.1,16.1 L1171.4,17.4 L1172.6,18.8 L1173.9,20.5 L1175.2,22.3 L1176.4,24.2 L1177.7,26.4 L1179.0,28.7 L1180.2,31.2 L1181.5,33.8 L1182.7,36.6 L1184.0,39.6 L1185.3,42.6 L1186.5,45.8 L1187.8,49.2 L1189.1,52.6 L1190.3,56.2 L1191.6,59.8 L1192.9,63.6 L1194.1,67.5 L1195.4,71.4 L1196.6,75.5 L1197.9,79.6 L1199.2,83.7 L1200.4,87.9 L1201.7,92.2 L1203.0,96.5 L1204.2,100.9 L1205.5,105.3 L1206.8,109.7 L1208.0,114.1 L1209.3,118.5 L1210.5,122.9 L1211.8,127.4 L1213.1,131.8 L1214.3,136.2 L1215.6,140.6 L1216.9,144.9 L1218.1,149.3 L1219.4,153.5 L1220.7,157.8 L1221.9,162.0 L1223.2,166.1 L1224.4,170.2 L1225.7,174.3 L1227.0,178.3 L1228.2,182.2 L1229.5,186.0 L1230.8,189.8 L1232.0,193.5 L1233.3,197.1 L1234.6,200.6 L1235.8,204.1 L1237.1,207.5 L1238.3,210.8 L1239.6,214.0 L1240.9,217.1 L1242.1,220.1 L1243.4,223.1 L1244.7,225.9 L1245.9,228.7 L1247.2,231.4 L1248.5,234.0 L1249.7,236.5 L1251.0,238.9 L1252.2,241.3 L1253.5,243.5 L1254.8,245.7 L1256.0,247.8 L1257.3,249.8 L1258.6,251.7 L1259.8,253.6 L1261.1,255.3 L1262.4,257.0 L1263.6,258.6 L1264.9,260.2 L1266.1,261.7 L1267.4,263.1 L1268.7,264.4 L1269.9,265.7 L1271.2,266.9 L1272.5,268.1 L1273.7,269.2 L1275.0,270.2 L1276.3,271.2 L1277.5,272.2 L1278.8,273.1 L1280.0,273.9 L1281.3,274.7 L1282.6,275.4 L1283.8,276.2 L1285.1,276.8 L1286.4,277.5 L1287.6,278.1 L1288.9,278.6 L1290.2,279.2 L1291.4,279.7 L1292.7,280.1 L1293.9,280.6 L1295.2,281.0 L1296.5,281.4 L1297.7,281.7 L1299.0,282.1 L1300.3,282.4 L1301.5,282.7 L1302.8,283.0 L1304.1,283.2 L1305.3,283.5 L1306.6,283.7 L1307.8,283.9 L1309.1,284.1 L1310.4,284.3 L1311.6,284.5 L1312.9,284.6 L1314.2,284.8 L1315.4,284.9 L1316.7,285.1 L1317.9,285.2 L1319.2,285.3 L1320.5,285.4 L1321.7,285.5 L1323.0,285.6 L1324.3,285.7 L1325.5,285.8 L1326.8,285.9 L1328.1,286.0 L1329.3,286.0 L1330.6,286.1 L1331.8,286.2 L1333.1,286.2 L1334.4,286.3 L1335.6,286.3 L1336.9,286.4 L1338.2,286.4 L1339.4,286.5 L1340.7,286.5 L1342.0,286.6 L1343.2,286.6 L1344.5,286.7 L1345.7,286.7 L1347.0,286.7 L1348.3,286.8 L1349.5,286.8 L1350.8,286.9 L1352.1,286.9 L1353.3,286.9 L1354.6,287.0 L1355.9,287.0 L1357.1,287.0 L1358.4,287.1 L1359.6,287.1 L1360.9,287.1 L1362.2,287.1 L1363.4,287.2 L1364.7,287.2 L1366.0,287.2 L1367.2,287.3 L1368.5,287.3 L1369.8,287.3 L1371.0,287.4 L1372.3,287.4 L1373.5,287.4 L1374.8,287.5 L1376.1,287.5 L1377.3,287.5 L1378.6,287.6 L1379.9,287.6 L1381.1,287.7 L1382.4,287.7 L1383.7,287.7 L1384.9,287.8 L1386.2,287.8 L1387.4,287.9 L1388.7,287.9 L1390.0,287.9 L1391.2,288.0 L1392.5,288.0 L1393.8,288.1 L1395.0,288.1 L1396.3,288.2 L1397.6,288.2 L1398.8,288.3 L1400.1,288.3 L1401.3,288.4 L1402.6,288.4 L1403.9,288.5 L1405.1,288.6 L1406.4,288.6 L1407.7,288.7 L1408.9,288.7 L1410.2,288.8 L1411.5,288.9 L1412.7,288.9 L1414.0,289.0 L1415.2,289.1 L1416.5,289.1 L1417.8,289.2 L1419.0,289.3 L1420.3,289.3 L1421.6,289.4 L1422.8,289.5 L1424.1,289.5 L1425.4,289.6 L1426.6,289.7 L1427.9,289.7 L1429.1,289.8 L1430.4,289.9 L1431.7,290.0 L1432.9,290.0 L1434.2,290.1 L1435.5,290.2 L1436.7,290.2 L1438.0,290.3 L1439.3,290.4 L1440.5,290.4 L1441.8,290.5 L1443.0,290.6 L1444.3,290.6 L1445.6,290.7 L1446.8,290.8 L1448.1,290.8 L1449.4,290.9 L1450.6,291.0 L1451.9,291.0 L1453.2,291.1 L1454.4,291.1 L1455.7,291.2 L1456.9,291.3 L1458.2,291.3 L1459.5,291.4 L1460.7,291.4 L1462.0,291.5 L1464.0,291.5 L1468.6,291.7 L1473.1,291.8 L1477.7,292.0 L1482.3,292.0 L1486.8,292.1 L1491.4,292.1 L1495.9,292.1 L1500.5,292.1 L1505.1,292.0 L1509.6,291.8 L1514.2,291.7 L1518.8,291.5 L1523.3,291.2 L1527.9,290.9 L1532.4,290.7 L1537.0,290.4 L1541.6,290.1 L1546.1,289.8 L1550.7,289.5 L1555.3,289.2 L1559.8,288.9 L1564.4,288.7 L1568.9,288.6 L1573.5,288.4 L1578.1,288.3 L1582.6,288.2 L1587.2,288.2 L1591.8,288.2 L1596.3,288.3 L1600.9,288.4 L1605.5,288.5 L1610.0,288.7 L1614.6,289.0 L1619.1,289.3 L1623.7,289.6 L1628.3,289.9 L1632.8,290.2 L1637.4,290.6 L1642.0,291.0 L1646.5,291.3 L1651.1,291.6 L1655.6,291.9 L1660.2,292.2 L1664.8,292.4 L1669.3,292.6 L1673.9,292.7 L1678.5,292.8 L1683.0,292.9 L1687.6,292.9 L1692.2,292.9 L1696.7,292.9 L1701.3,292.8 L1705.8,292.7 L1710.4,292.6 L1715.0,292.4 L1719.5,292.2 L1724.1,292.0 L1728.7,291.8 L1733.2,291.6 L1737.8,291.3 L1742.3,291.1 L1746.9,290.8 L1751.5,290.6 L1756.0,290.3 L1760.6,290.0 L1765.2,289.8 L1769.7,289.5 L1774.3,289.2 L1778.8,289.0 L1783.4,288.7 L1788.0,288.5 L1792.5,288.2 L1797.1,287.9 L1801.7,287.7 L1806.2,287.4 L1810.8,287.1 L1815.4,286.8 L1819.9,286.6 L1824.5,286.3 L1829.0,286.0 L1833.6,285.8 L1838.2,285.6 L1842.7,285.4 L1847.3,285.3 L1851.9,285.2 L1856.4,285.1 L1861.0,285.2 L1865.5,285.2 L1870.1,285.4 L1874.7,285.6 L1879.2,285.9 L1883.8,286.2 L1888.4,286.5 L1892.9,286.9 L1897.5,287.3 L1902.1,287.8 L1906.6,288.3 L1911.2,288.8 L1915.7,289.3 L1920.3,289.9 L1924.9,290.4 L1929.4,291.0 L1934.0,291.5 L1938.6,292.0 L1943.1,292.6 L1947.7,293.0 L1952.2,293.5 L1956.8,293.9 L1961.4,294.3 L1965.9,294.6 L1970.5,294.8 L1975.1,295.0 L1979.6,295.1 L1984.2,295.1 L1988.7,295.0 L1993.3,294.8 L1997.9,294.4 L2002.4,293.9 L2007.0,293.3" stroke="#969696"/><path d="M1160.0,25.2 L1161.3,24.6 L1162.5,24.3 L1163.8,24.3 L1165.1,24.4 L1166.3,24.7 L1167.6,25.3 L1168.8,26.1 L1170.1,27.1 L1171.4,28.3 L1172.6,29.7 L1173.9,31.3 L1175.2,33.2 L1176.4,35.1 L1177.7,37.3 L1179.0,39.7 L1180.2,42.2 L1181.5,44.9 L1182.7,47.7 L1184.0,50.7 L1185.3,53.9 L1186.5,57.1 L1187.8,60.5 L1189.1,64.0 L1190.3,67.7 L1191.6,71.4 L1192.9,75.2 L1194.1,79.1 L1195.4,83.1 L1196.6,87.2 L1197.9,91.3 L1199.2,95.5 L1200.4,99.8 L1201.7,104.1 L1203.0,108.4 L1204.2,112.8 L1205.5,117.2 L1206.8,121.6 L1208.0,126.0 L1209.3,130.5 L1210.5,134.9 L1211.8,139.4 L1213.1,143.8 L1214.3,148.2 L1215.6,152.6 L1216.9,156.9 L1218.1,161.3 L1219.4,165.6 L1220.7,169.8 L1221.9,174.0 L1223.2,178.2 L1224.4,182.3 L1225.7,186.3 L1227.0,190.3 L1228.2,194.2 L1229.5,198.1 L1230.8,201.8 L1232.0,205.5 L1233.3,209.2 L1234.6,212.7 L1235.8,216.2 L1237.1,219.6 L1238.3,222.9 L1239.6,226.1 L1240.9,229.2 L1242.1,232.3 L1243.4,235.2 L1244.7,238.1 L1245.9,240.9 L1247.2,243.5 L1248.5,246.1 L1249.7,248.6 L1251.0,251.1 L1252.2,253.4 L1253.5,255.6 L1254.8,257.8 L1256.0,259.9 L1257.3,261.8 L1258.6,263.7 L1259.8,265.6 L1261.1,267.3 L1262.4,269.0 L1263.6,270.6 L1264.9,272.1 L1266.1,273.5 L1267.4,274.9 L1268.7,276.2 L1269.9,277.5 L1271.2,278.7 L1272.5,279.8 L1273.7,280.9 L1275.0,281.9 L1276.3,282.9 L1277.5,283.8 L1278.8,284.7 L1280.0,285.5 L1281.3,286.3 L1282.6,287.0 L1283.8,287.7 L1285.1,288.4 L1286.4,289.0 L1287.6,289.6 L1288.9,290.1 L1290.2,290.7 L1291.4,291.2 L1292.7,291.6 L1293.9,292.1 L1295.2,292.5 L1296.5,292.8 L1297.7,293.2 L1299.0,293.5 L1300.3,293.9 L1301.5,294.2 L1302.8,294.4 L1304.1,294.7 L1305.3,294.9 L1306.6,295.2 L1307.8,295.4 L1309.1,295.6 L1310.4,295.8 L1311.6,295.9 L1312.9,296.1 L1314.2,296.3 L1315.4,296.4 L1316.7,296.5 L1317.9,296.6 L1319.2,296.7 L1320.5,296.8 L1321.7,296.9 L1323.0,297.0 L1324.3,297.1 L1325.5,297.2 L1326.8,297.3 L1328.1,297.3 L1329.3,297.4 L1330.6,297.5 L1331.8,297.5 L1333.1,297.6 L1334.4,297.6 L1335.6,297.7 L1336.9,297.7 L1338.2,297.7 L1339.4,297.8 L1340.7,297.8 L1342.0,297.9 L1343.2,297.9 L1344.5,297.9 L1345.7,298.0 L1347.0,298.0 L1348.3,298.0 L1349.5,298.1 L1350.8,298.1 L1352.1,298.1 L1353.3,298.2 L1354.6,298.2 L1355.9,298.3 L1357.1,298.3 L1358.4,298.3 L1359.6,298.4 L1360.9,298.4 L1362.2,298.4 L1363.4,298.5 L1364.7,298.5 L1366.0,298.6 L1367.2,298.6 L1368.5,298.6 L1369.8,298.7 L1371.0,298.7 L1372.3,298.8 L1373.5,298.8 L1374.8,298.9 L1376.1,298.9 L1377.3,298.9 L1378.6,299.0 L1379.9,299.0 L1381.1,299.1 L1382.4,299.1 L1383.7,299.2 L1384.9,299.2 L1386.2,299.3 L1387.4,299.3 L1388.7,299.4 L1390.0,299.4 L1391.2,299.5 L1392.5,299.5 L1393.8,299.6 L1395.0,299.6 L1396.3,299.7 L1397.6,299.7 L1398.8,299.8 L1400.1,299.8 L1401.3,299.9 L1402.6,299.9 L1403.9,300.0 L1405.1,300.0 L1406.4,300.1 L1407.7,300.1 L1408.9,300.2 L1410.2,300.3 L1411.5,300.3 L1412.7,300.4 L1414.0,300.4 L1415.2,300.5 L1416.5,300.5 L1417.8,300.6 L1419.0,300.6 L1420.3,300.7 L1421.6,300.7 L1422.8,300.8 L1424.1,300.8 L1425.4,300.9 L1426.6,300.9 L1427.9,301.0 L1429.1,301.1 L1430.4,301.1 L1431.7,301.2 L1432.9,301.2 L1434.2,301.3 L1435.5,301.3 L1436.7,301.4 L1438.0,301.4 L1439.3,301.5 L1440.5,301.5 L1441.8,301.6 L1443.0,301.6 L1444.3,301.7 L1445.6,301.8 L1446.8,301.8 L1448.1,301.9 L1449.4,301.9 L1450.6,302.0 L1451.9,302.0 L1453.2,302.1 L1454.4,302.1 L1455.7,302.2 L1456.9,302.2 L1458.2,302.3 L1459.5,302.3 L1460.7,302.4 L1462.0,302.4 L1464.0,302.5 L1468.6,302.7 L1473.1,302.9 L1477.7,303.0 L1482.3,303.2 L1486.8,303.3 L1491.4,303.3 L1495.9,303.4 L1500.5,303.4 L1505.1,303.3 L1509.6,303.2 L1514.2,303.0 L1518.8,302.8 L1523.3,302.5 L1527.9,302.2 L1532.4,301.8 L1537.0,301.5 L1541.6,301.1 L1546.1,300.8 L1550.7,300.5 L1555.3,300.2 L1559.8,299.9 L1564.4,299.8 L1568.9,299.6 L1573.5,299.6 L1578.1,299.6 L1582.6,299.6 L1587.2,299.7 L1591.8,299.9 L1596.3,300.1 L1600.9,300.3 L1605.5,300.6 L1610.0,301.0 L1614.6,301.3 L1619.1,301.7 L1623.7,302.1 L1628.3,302.6 L1632.8,303.0 L1637.4,303.4 L1642.0,303.8 L1646.5,304.2 L1651.1,304.5 L1655.6,304.8 L1660.2,305.0 L1664.8,305.2 L1669.3,305.3 L1673.9,305.3 L1678.5,305.3 L1683.0,305.2 L1687.6,305.1 L1692.2,304.9 L1696.7,304.7 L1701.3,304.5 L1705.8,304.2 L1710.4,303.9 L1715.0,303.7 L1719.5,303.4 L1724.1,303.1 L1728.7,302.8 L1733.2,302.6 L1737.8,302.3 L1742.3,302.1 L1746.9,301.8 L1751.5,301.6 L1756.0,301.4 L1760.6,301.2 L1765.2,301.0 L1769.7,300.9 L1774.3,300.8 L1778.8,300.7 L1783.4,300.6 L1788.0,300.4 L1792.5,300.3 L1797.1,300.1 L1801.7,299.9 L1806.2,299.7 L1810.8,299.4 L1815.4,299.1 L1819.9,298.8 L1824.5,298.4 L1829.0,298.0 L1833.6,297.6 L1838.2,297.2 L1842.7,296.8 L1847.3,296.5 L1851.9,296.3 L1856.4,296.1 L1861.0,296.1 L1865.5,296.1 L1870.1,296.2 L1874.7,296.5 L1879.2,296.8 L1883.8,297.2 L1888.4,297.6 L1892.9,298.1 L1897.5,298.6 L1902.1,299.2 L1906.6,299.8 L1911.2,300.3 L1915.7,300.9 L1920.3,301.5 L1924.9,302.1 L1929.4,302.6 L1934.0,303.1 L1938.6,303.6 L1943.1,304.1 L1947.7,304.5 L1952.2,304.9 L1956.8,305.3 L1961.4,305.6 L1965.9,305.8 L1970.5,306.0 L1975.1,306.2 L1979.6,306.2 L1984.2,306.2 L1988.7,306.0 L1993.3,305.8 L1997.9,305.4 L2002.4,304.9 L2007.0,304.3" stroke="#0000dc"/><path d="M1160.0,36.3 L1161.3,36.1 L1162.5,36.1 L1163.8,36.3 L1165.1,36.7 L1166.3,37.2 L1167.6,38.0 L1168.8,39.0 L1170.1,40.1 L1171.4,41.5 L1172.6,43.0 L1173.9,44.8 L1175.2,46.7 L1176.4,48.7 L1177.7,51.0 L1179.0,53.4 L1180.2,55.9 L1181.5,58.6 L1182.7,61.5 L1184.0,64.5 L1185.3,67.6 L1186.5,70.9 L1187.8,74.3 L1189.1,77.8 L1190.3,81.4 L1191.6,85.1 L1192.9,88.9 L1194.1,92.8 L1195.4,96.7 L1196.6,100.7 L1197.9,104.8 L1199.2,109.0 L1200.4,113.2 L1201.7,117.4 L1203.0,121.7 L1204.2,126.1 L1205.5,130.4 L1206.8,134.8 L1208.0,139.2 L1209.3,143.5 L1210.5,147.9 L1211.8,152.3 L1213.1,156.7 L1214.3,161.1 L1215.6,165.4 L1216.9,169.7 L1218.1,174.0 L1219.4,178.3 L1220.7,182.5 L1221.9,186.7 L1223.2,190.8 L1224.4,194.9 L1225.7,198.9 L1227.0,202.8 L1228.2,206.7 L1229.5,210.6 L1230.8,214.3 L1232.0,218.0 L1233.3,221.6 L1234.6,225.2 L1235.8,228.7 L1237.1,232.0 L1238.3,235.3 L1239.6,238.6 L1240.9,241.7 L1242.1,244.7 L1243.4,247.7 L1244.7,250.6 L1245.9,253.4 L1247.2,256.1 L1248.5,258.7 L1249.7,261.2 L1251.0,263.6 L1252.2,266.0 L1253.5,268.2 L1254.8,270.4 L1256.0,272.5 L1257.3,274.5 L1258.6,276.4 L1259.8,278.3 L1261.1,280.0 L1262.4,281.7 L1263.6,283.3 L1264.9,284.9 L1266.1,286.3 L1267.4,287.7 L1268.7,289.1 L1269.9,290.3 L1271.2,291.5 L1272.5,292.7 L1273.7,293.7 L1275.0,294.8 L1276.3,295.7 L1277.5,296.6 L1278.8,297.5 L1280.0,298.3 L1281.3,299.0 L1282.6,299.7 L1283.8,300.4 L1285.1,301.0 L1286.4,301.6 L1287.6,302.1 L1288.9,302.6 L1290.2,303.1 L1291.4,303.5 L1292.7,303.9 L1293.9,304.3 L1295.2,304.7 L1296.5,305.0 L1297.7,305.3 L1299.0,305.5 L1300.3,305.8 L1301.5,306.0 L1302.8,306.2 L1304.1,306.4 L1305.3,306.6 L1306.6,306.8 L1307.8,306.9 L1309.1,307.1 L1310.4,307.2 L1311.6,307.3 L1312.9,307.5 L1314.2,307.6 L1315.4,307.7 L1316.7,307.8 L1317.9,307.9 L1319.2,307.9 L1320.5,308.0 L1321.7,308.1 L1323.0,308.2 L1324.3,308.2 L1325.5,308.3 L1326.8,308.4 L1328.1,308.4 L1329.3,308.5 L1330.6,308.5 L1331.8,308.6 L1333.1,308.6 L1334.4,308.7 L1335.6,308.7 L1336.9,308.8 L1338.2,308.8 L1339.4,308.9 L1340.7,308.9 L1342.0,309.0 L1343.2,309.0 L1344.5,309.0 L1345.7,309.1 L1347.0,309.1 L1348.3,309.1 L1349.5,309.2 L1350.8,309.2 L1352.1,309.2 L1353.3,309.3 L1354.6,309.3 L1355.9,309.3 L1357.1,309.3 L1358.4,309.4 L1359.6,309.4 L1360.9,309.4 L1362.2,309.4 L1363.4,309.5 L1364.7,309.5 L1366.0,309.5 L1367.2,309.5 L1368.5,309.5 L1369.8,309.6 L1371.0,309.6 L1372.3,309.6 L1373.5,309.6 L1374.8,309.6 L1376.1,309.7 L1377.3,309.7 L1378.6,309.7 L1379.9,309.7 L1381.1,309.7 L1382.4,309.8 L1383.7,309.8 L1384.9,309.8 L1386.2,309.8 L1387.4,309.9 L1388.7,309.9 L1390.0,309.9 L1391.2,309.9 L1392.5,310.0 L1393.8,310.0 L1395.0,310.0 L1396.3,310.1 L1397.6,310.1 L1398.8,310.1 L1400.1,310.2 L1401.3,310.2 L1402.6,310.2 L1403.9,310.3 L1405.1,310.3 L1406.4,310.3 L1407.7,310.4 L1408.9,310.4 L1410.2,310.5 L1411.5,310.5 L1412.7,310.6 L1414.0,310.6 L1415.2,310.7 L1416.5,310.7 L1417.8,310.8 L1419.0,310.8 L1420.3,310.9 L1421.6,310.9 L1422.8,311.0 L1424.1,311.0 L1425.4,311.1 L1426.6,311.1 L1427.9,311.2 L1429.1,311.2 L1430.4,311.3 L1431.7,311.3 L1432.9,311.4 L1434.2,311.4 L1435.5,311.5 L1436.7,311.5 L1438.0,311.6 L1439.3,311.7 L1440.5,311.7 L1441.8,311.8 L1443.0,311.8 L1444.3,311.9 L1445.6,311.9 L1446.8,312.0 L1448.1,312.0 L1449.4,312.1 L1450.6,312.1 L1451.9,312.2 L1453.2,312.2 L1454.4,312.3 L1455.7,312.3 L1456.9,312.4 L1458.2,312.4 L1459.5,312.5 L1460.7,312.5 L1462.0,312.5 L1464.0,312.6 L1468.6,312.7 L1473.1,312.8 L1477.7,312.9 L1482.3,313.0 L1486.8,313.0 L1491.4,313.1 L1495.9,313.0 L1500.5,313.0 L1505.1,312.9 L1509.6,312.7 L1514.2,312.5 L1518.8,312.3 L1523.3,312.0 L1527.9,311.7 L1532.4,311.4 L1537.0,311.1 L1541.6,310.7 L1546.1,310.4 L1550.7,310.1 L1555.3,309.8 L1559.8,309.5 L1564.4,309.3 L1568.9,309.1 L1573.5,309.0 L1578.1,308.8 L1582.6,308.8 L1587.2,308.7 L1591.8,308.7 L1596.3,308.8 L1600.9,308.9 L1605.5,309.0 L1610.0,309.1 L1614.6,309.3 L1619.1,309.5 L1623.7,309.8 L1628.3,310.0 L1632.8,310.3 L1637.4,310.6 L1642.0,310.9 L1646.5,311.2 L1651.1,311.4 L1655.6,311.7 L1660.2,311.9 L1664.8,312.1 L1669.3,312.3 L1673.9,312.5 L1678.5,312.6 L1683.0,312.7 L1687.6,312.7 L1692.2,312.7 L1696.7,312.7 L1701.3,312.6 L1705.8,312.5 L1710.4,312.4 L1715.0,312.2 L1719.5,311.9 L1724.1,311.7 L1728.7,311.4 L1733.2,311.0 L1737.8,310.7 L1742.3,310.3 L1746.9,309.9 L1751.5,309.5 L1756.0,309.1 L1760.6,308.8 L1765.2,308.4 L1769.7,308.0 L1774.3,307.7 L1778.8,307.4 L1783.4,307.0 L1788.0,306.7 L1792.5,306.4 L1797.1,306.0 L1801.7,305.7 L1806.2,305.4 L1810.8,305.0 L1815.4,304.6 L1819.9,304.3 L1824.5,303.9 L1829.0,303.5 L1833.6,303.2 L1838.2,302.9 L1842.7,302.6 L1847.3,302.4 L1851.9,302.2 L1856.4,302.1 L1861.0,302.1 L1865.5,302.1 L1870.1,302.2 L1874.7,302.4 L1879.2,302.7 L1883.8,302.9 L1888.4,303.3 L1892.9,303.7 L1897.5,304.1 L1902.1,304.5 L1906.6,304.9 L1911.2,305.3 L1915.7,305.7 L1920.3,306.1 L1924.9,306.5 L1929.4,306.8 L1934.0,307.2 L1938.6,307.5 L1943.1,307.8 L1947.7,308.1 L1952.2,308.3 L1956.8,308.5 L1961.4,308.7 L1965.9,308.9 L1970.5,309.0 L1975.1,309.0 L1979.6,309.1 L1984.2,309.0 L1988.7,308.9 L1993.3,308.7 L1997.9,308.5 L2002.4,308.1 L2007.0,307.7" stroke="#0aa5c6"/><path d="M1160.0,59.4 L1161.3,59.5 L1162.5,59.7 L1163.8,60.1 L1165.1,60.7 L1166.3,61.5 L1167.6,62.4 L1168.8,63.4 L1170.1,64.7 L1171.4,66.1 L1172.6,67.6 L1173.9,69.3 L1175.2,71.2 L1176.4,73.3 L1177.7,75.5 L1179.0,77.8 L1180.2,80.3 L1181.5,82.9 L1182.7,85.7 L1184.0,88.6 L1185.3,91.7 L1186.5,94.8 L1187.8,98.1 L1189.1,101.5 L1190.3,105.1 L1191.6,108.7 L1192.9,112.4 L1194.1,116.2 L1195.4,120.2 L1196.6,124.1 L1197.9,128.2 L1199.2,132.3 L1200.4,136.5 L1201.7,140.7 L1203.0,145.0 L1204.2,149.3 L1205.5,153.6 L1206.8,158.0 L1208.0,162.4 L1209.3,166.8 L1210.5,171.1 L1211.8,175.5 L1213.1,179.9 L1214.3,184.2 L1215.6,188.5 L1216.9,192.8 L1218.1,197.1 L1219.4,201.3 L1220.7,205.5 L1221.9,209.6 L1223.2,213.7 L1224.4,217.7 L1225.7,221.6 L1227.0,225.5 L1228.2,229.3 L1229.5,233.0 L1230.8,236.7 L1232.0,240.3 L1233.3,243.8 L1234.6,247.2 L1235.8,250.6 L1237.1,253.8 L1238.3,257.0 L1239.6,260.1 L1240.9,263.1 L1242.1,266.0 L1243.4,268.9 L1244.7,271.6 L1245.9,274.3 L1247.2,276.9 L1248.5,279.3 L1249.7,281.8 L1251.0,284.1 L1252.2,286.3 L1253.5,288.5 L1254.8,290.5 L1256.0,292.5 L1257.3,294.5 L1258.6,296.3 L1259.8,298.1 L1261.1,299.7 L1262.4,301.4 L1263.6,302.9 L1264.9,304.4 L1266.1,305.8 L1267.4,307.1 L1268.7,308.4 L1269.9,309.6 L1271.2,310.8 L1272.5,311.9 L1273.7,312.9 L1275.0,313.9 L1276.3,314.8 L1277.5,315.7 L1278.8,316.6 L1280.0,317.4 L1281.3,318.1 L1282.6,318.8 L1283.8,319.5 L1285.1,320.1 L1286.4,320.7 L1287.6,321.2 L1288.9,321.7 L1290.2,322.2 L1291.4,322.7 L1292.7,323.1 L1293.9,323.5 L1295.2,323.8 L1296.5,324.2 L1297.7,324.5 L1299.0,324.8 L1300.3,325.0 L1301.5,325.3 L1302.8,325.5 L1304.1,325.7 L1305.3,325.9 L1306.6,326.0 L1307.8,326.2 L1309.1,326.3 L1310.4,326.4 L1311.6,326.5 L1312.9,326.6 L1314.2,326.6 L1315.4,326.7 L1316.7,326.7 L1317.9,326.7 L1319.2,326.8 L1320.5,326.8 L1321.7,326.8 L1323.0,326.7 L1324.3,326.7 L1325.5,326.7 L1326.8,326.7 L1328.1,326.6 L1329.3,326.6 L1330.6,326.5 L1331.8,326.5 L1333.1,326.4 L1334.4,326.3 L1335.6,326.2 L1336.9,326.2 L1338.2,326.1 L1339.4,326.0 L1340.7,325.9 L1342.0,325.8 L1343.2,325.7 L1344.5,325.6 L1345.7,325.5 L1347.0,325.4 L1348.3,325.3 L1349.5,325.2 L1350.8,325.1 L1352.1,325.0 L1353.3,324.9 L1354.6,324.8 L1355.9,324.7 L1357.1,324.6 L1358.4,324.5 L1359.6,324.4 L1360.9,324.3 L1362.2,324.2 L1363.4,324.1 L1364.7,324.0 L1366.0,323.9 L1367.2,323.8 L1368.5,323.7 L1369.8,323.6 L1371.0,323.5 L1372.3,323.4 L1373.5,323.3 L1374.8,323.2 L1376.1,323.1 L1377.3,323.0 L1378.6,323.0 L1379.9,322.9 L1381.1,322.8 L1382.4,322.7 L1383.7,322.6 L1384.9,322.6 L1386.2,322.5 L1387.4,322.4 L1388.7,322.4 L1390.0,322.3 L1391.2,322.2 L1392.5,322.2 L1393.8,322.1 L1395.0,322.1 L1396.3,322.0 L1397.6,322.0 L1398.8,321.9 L1400.1,321.9 L1401.3,321.9 L1402.6,321.8 L1403.9,321.8 L1405.1,321.8 L1406.4,321.8 L1407.7,321.8 L1408.9,321.8 L1410.2,321.7 L1411.5,321.7 L1412.7,321.7 L1414.0,321.7 L1415.2,321.7 L1416.5,321.7 L1417.8,321.7 L1419.0,321.7 L1420.3,321.8 L1421.6,321.8 L1422.8,321.8 L1424.1,321.8 L1425.4,321.8 L1426.6,321.8 L1427.9,321.8 L1429.1,321.9 L1430.4,321.9 L1431.7,321.9 L1432.9,321.9 L1434.2,321.9 L1435.5,322.0 L1436.7,322.0 L1438.0,322.0 L1439.3,322.0 L1440.5,322.1 L1441.8,322.1 L1443.0,322.1 L1444.3,322.1 L1445.6,322.1 L1446.8,322.2 L1448.1,322.2 L1449.4,322.2 L1450.6,322.2 L1451.9,322.2 L1453.2,322.2 L1454.4,322.2 L1455.7,322.3 L1456.9,322.3 L1458.2,322.3 L1459.5,322.3 L1460.7,322.3 L1462.0,322.3 L1464.0,322.3 L1468.6,322.2 L1473.1,322.1 L1477.7,322.0 L1482.3,321.8 L1486.8,321.6 L1491.4,321.4 L1495.9,321.1 L1500.5,320.8 L1505.1,320.4 L1509.6,320.0 L1514.2,319.6 L1518.8,319.1 L1523.3,318.6 L1527.9,318.0 L1532.4,317.5 L1537.0,316.9 L1541.6,316.3 L1546.1,315.8 L1550.7,315.2 L1555.3,314.7 L1559.8,314.2 L1564.4,313.7 L1568.9,313.3 L1573.5,312.9 L1578.1,312.5 L1582.6,312.2 L1587.2,312.0 L1591.8,311.7 L1596.3,311.6 L1600.9,311.4 L1605.5,311.3 L1610.0,311.3 L1614.6,311.2 L1619.1,311.3 L1623.7,311.3 L1628.3,311.4 L1632.8,311.5 L1637.4,311.6 L1642.0,311.6 L1646.5,311.7 L1651.1,311.8 L1655.6,311.8 L1660.2,311.8 L1664.8,311.8 L1669.3,311.7 L1673.9,311.6 L1678.5,311.4 L1683.0,311.3 L1687.6,311.0 L1692.2,310.8 L1696.7,310.5 L1701.3,310.2 L1705.8,309.8 L1710.4,309.5 L1715.0,309.1 L1719.5,308.7 L1724.1,308.2 L1728.7,307.8 L1733.2,307.3 L1737.8,306.9 L1742.3,306.4 L1746.9,305.8 L1751.5,305.3 L1756.0,304.8 L1760.6,304.2 L1765.2,303.6 L1769.7,303.1 L1774.3,302.5 L1778.8,301.9 L1783.4,301.3 L1788.0,300.7 L1792.5,300.1 L1797.1,299.5 L1801.7,298.9 L1806.2,298.3 L1810.8,297.8 L1815.4,297.2 L1819.9,296.7 L1824.5,296.2 L1829.0,295.8 L1833.6,295.3 L1838.2,294.9 L1842.7,294.6 L1847.3,294.3 L1851.9,294.0 L1856.4,293.8 L1861.0,293.7 L1865.5,293.6 L1870.1,293.5 L1874.7,293.6 L1879.2,293.6 L1883.8,293.7 L1888.4,293.9 L1892.9,294.0 L1897.5,294.2 L1902.1,294.4 L1906.6,294.6 L1911.2,294.9 L1915.7,295.1 L1920.3,295.3 L1924.9,295.5 L1929.4,295.7 L1934.0,295.9 L1938.6,296.1 L1943.1,296.2 L1947.7,296.4 L1952.2,296.5 L1956.8,296.6 L1961.4,296.7 L1965.9,296.7 L1970.5,296.7 L1975.1,296.7 L1979.6,296.6 L1984.2,296.5 L1988.7,296.3 L1993.3,296.0 L1997.9,295.7 L2002.4,295.3 L2007.0,294.8" stroke="#c6b400"/><path d="M1160.0,82.8 L1161.3,82.0 L1162.5,81.5 L1163.8,81.2 L1165.1,81.1 L1166.3,81.3 L1167.6,81.8 L1168.8,82.5 L1170.1,83.4 L1171.4,84.6 L1172.6,86.0 L1173.9,87.6 L1175.2,89.4 L1176.4,91.4 L1177.7,93.6 L1179.0,96.0 L1180.2,98.6 L1181.5,101.3 L1182.7,104.2 L1184.0,107.3 L1185.3,110.5 L1186.5,113.8 L1187.8,117.3 L1189.1,120.8 L1190.3,124.5 L1191.6,128.3 L1192.9,132.1 L1194.1,136.1 L1195.4,140.1 L1196.6,144.1 L1197.9,148.3 L1199.2,152.4 L1200.4,156.7 L1201.7,160.9 L1203.0,165.2 L1204.2,169.5 L1205.5,173.8 L1206.8,178.1 L1208.0,182.5 L1209.3,186.8 L1210.5,191.1 L1211.8,195.4 L1213.1,199.7 L1214.3,204.0 L1215.6,208.3 L1216.9,212.5 L1218.1,216.7 L1219.4,220.8 L1220.7,224.9 L1221.9,228.9 L1223.2,232.9 L1224.4,236.8 L1225.7,240.7 L1227.0,244.5 L1228.2,248.2 L1229.5,251.9 L1230.8,255.5 L1232.0,259.0 L1233.3,262.5 L1234.6,265.8 L1235.8,269.1 L1237.1,272.3 L1238.3,275.4 L1239.6,278.4 L1240.9,281.3 L1242.1,284.2 L1243.4,286.9 L1244.7,289.6 L1245.9,292.2 L1247.2,294.7 L1248.5,297.1 L1249.7,299.4 L1251.0,301.6 L1252.2,303.8 L1253.5,305.8 L1254.8,307.8 L1256.0,309.7 L1257.3,311.5 L1258.6,313.2 L1259.8,314.8 L1261.1,316.4 L1262.4,317.9 L1263.6,319.3 L1264.9,320.7 L1266.1,321.9 L1267.4,323.2 L1268.7,324.3 L1269.9,325.4 L1271.2,326.4 L1272.5,327.4 L1273.7,328.3 L1275.0,329.1 L1276.3,329.9 L1277.5,330.7 L1278.8,331.4 L1280.0,332.0 L1281.3,332.7 L1282.6,333.2 L1283.8,333.7 L1285.1,334.2 L1286.4,334.7 L1287.6,335.1 L1288.9,335.5 L1290.2,335.8 L1291.4,336.1 L1292.7,336.4 L1293.9,336.7 L1295.2,336.9 L1296.5,337.1 L1297.7,337.3 L1299.0,337.4 L1300.3,337.6 L1301.5,337.7 L1302.8,337.8 L1304.1,337.8 L1305.3,337.9 L1306.6,337.9 L1307.8,337.9 L1309.1,337.9 L1310.4,337.9 L1311.6,337.9 L1312.9,337.9 L1314.2,337.8 L1315.4,337.7 L1316.7,337.7 L1317.9,337.6 L1319.2,337.5 L1320.5,337.4 L1321.7,337.3 L1323.0,337.1 L1324.3,337.0 L1325.5,336.9 L1326.8,336.8 L1328.1,336.6 L1329.3,336.5 L1330.6,336.3 L1331.8,336.2 L1333.1,336.0 L1334.4,335.8 L1335.6,335.7 L1336.9,335.5 L1338.2,335.3 L1339.4,335.2 L1340.7,335.0 L1342.0,334.8 L1343.2,334.6 L1344.5,334.5 L1345.7,334.3 L1347.0,334.1 L1348.3,333.9 L1349.5,333.8 L1350.8,333.6 L1352.1,333.4 L1353.3,333.2 L1354.6,333.1 L1355.9,332.9 L1357.1,332.7 L1358.4,332.6 L1359.6,332.4 L1360.9,332.2 L1362.2,332.1 L1363.4,331.9 L1364.7,331.8 L1366.0,331.6 L1367.2,331.5 L1368.5,331.3 L1369.8,331.2 L1371.0,331.0 L1372.3,330.9 L1373.5,330.7 L1374.8,330.6 L1376.1,330.4 L1377.3,330.3 L1378.6,330.1 L1379.9,330.0 L1381.1,329.9 L1382.4,329.7 L1383.7,329.6 L1384.9,329.5 L1386.2,329.3 L1387.4,329.2 L1388.7,329.1 L1390.0,329.0 L1391.2,328.8 L1392.5,328.7 L1393.8,328.6 L1395.0,328.5 L1396.3,328.4 L1397.6,328.2 L1398.8,328.1 L1400.1,328.0 L1401.3,327.9 L1402.6,327.8 L1403.9,327.7 L1405.1,327.6 L1406.4,327.5 L1407.7,327.4 L1408.9,327.3 L1410.2,327.2 L1411.5,327.1 L1412.7,327.0 L1414.0,326.9 L1415.2,326.8 L1416.5,326.7 L1417.8,326.6 L1419.0,326.5 L1420.3,326.4 L1421.6,326.3 L1422.8,326.2 L1424.1,326.1 L1425.4,326.0 L1426.6,325.9 L1427.9,325.8 L1429.1,325.7 L1430.4,325.6 L1431.7,325.5 L1432.9,325.4 L1434.2,325.3 L1435.5,325.2 L1436.7,325.1 L1438.0,325.0 L1439.3,324.9 L1440.5,324.8 L1441.8,324.7 L1443.0,324.6 L1444.3,324.5 L1445.6,324.4 L1446.8,324.3 L1448.1,324.2 L1449.4,324.1 L1450.6,324.0 L1451.9,323.9 L1453.2,323.8 L1454.4,323.7 L1455.7,323.6 L1456.9,323.4 L1458.2,323.3 L1459.5,323.2 L1460.7,323.1 L1462.0,323.0 L1464.0,322.8 L1468.6,322.3 L1473.1,321.8 L1477.7,321.3 L1482.3,320.8 L1486.8,320.2 L1491.4,319.6 L1495.9,318.9 L1500.5,318.3 L1505.1,317.5 L1509.6,316.8 L1514.2,316.0 L1518.8,315.2 L1523.3,314.4 L1527.9,313.5 L1532.4,312.6 L1537.0,311.7 L1541.6,310.9 L1546.1,310.0 L1550.7,309.2 L1555.3,308.4 L1559.8,307.6 L1564.4,306.9 L1568.9,306.2 L1573.5,305.6 L1578.1,305.0 L1582.6,304.4 L1587.2,303.9 L1591.8,303.5 L1596.3,303.1 L1600.9,302.7 L1605.5,302.4 L1610.0,302.1 L1614.6,301.8 L1619.1,301.6 L1623.7,301.4 L1628.3,301.3 L1632.8,301.1 L1637.4,301.0 L1642.0,300.9 L1646.5,300.8 L1651.1,300.6 L1655.6,300.5 L1660.2,300.3 L1664.8,300.1 L1669.3,299.9 L1673.9,299.6 L1678.5,299.3 L1683.0,299.0 L1687.6,298.7 L1692.2,298.3 L1696.7,297.9 L1701.3,297.5 L1705.8,297.1 L1710.4,296.6 L1715.0,296.1 L1719.5,295.7 L1724.1,295.2 L1728.7,294.6 L1733.2,294.1 L1737.8,293.5 L1742.3,293.0 L1746.9,292.4 L1751.5,291.8 L1756.0,291.1 L1760.6,290.5 L1765.2,289.9 L1769.7,289.2 L1774.3,288.5 L1778.8,287.9 L1783.4,287.2 L1788.0,286.5 L1792.5,285.8 L1797.1,285.2 L1801.7,284.5 L1806.2,283.9 L1810.8,283.3 L1815.4,282.7 L1819.9,282.1 L1824.5,281.6 L1829.0,281.1 L1833.6,280.6 L1838.2,280.2 L1842.7,279.8 L1847.3,279.5 L1851.9,279.2 L1856.4,278.9 L1861.0,278.7 L1865.5,278.6 L1870.1,278.4 L1874.7,278.4 L1879.2,278.4 L1883.8,278.4 L1888.4,278.5 L1892.9,278.6 L1897.5,278.8 L1902.1,279.0 L1906.6,279.2 L1911.2,279.5 L1915.7,279.8 L1920.3,280.1 L1924.9,280.5 L1929.4,280.9 L1934.0,281.3 L1938.6,281.6 L1943.1,282.0 L1947.7,282.4 L1952.2,282.8 L1956.8,283.1 L1961.4,283.4 L1965.9,283.7 L1970.5,283.9 L1975.1,284.1 L1979.6,284.2 L1984.2,284.2 L1988.7,284.2 L1993.3,284.0 L1997.9,283.8 L2002.4,283.4 L2007.0,282.9" stroke="#d00000"/></g>
<path d="M1229.1,1V13.5M1229.1,362V350.2M1296.3,1V13.5M1296.3,362V350.2M1363.5,1V13.5M1363.5,362V350.2M1430.7,1V13.5M1430.7,362V350.2M1498.0,1V13.5M1498.0,362V350.2M1565.2,1V13.5M1565.2,362V350.2M1632.4,1V13.5M1632.4,362V350.2M1699.6,1V13.5M1699.6,362V350.2M1766.8,1V13.5M1766.8,362V350.2M1834.0,1V13.5M1834.0,362V350.2M1901.2,1V13.5M1901.2,362V350.2M1968.4,1V13.5M1968.4,362V350.2M1162,74H1174M2002,74H1990M1162,146H1174M2002,146H1990M1162,218H1174M2002,218H1990M1162,290H1174M2002,290H1990" stroke="#000" stroke-width="3.4"/>
<rect x="1162.1" y="1" width="839.9" height="361" stroke="#000" stroke-width="3.75"/>
<g clip-path="url(#cd)" stroke-width="3.5" stroke-linejoin="miter"><path d="M1162.3,447.0 L1206.3,426.8 L1250.2,431.5 L1294.2,447.3 L1338.1,464.3 L1382.1,466.6 L1426.1,534.9 L1470.0,536.0 L1514.0,534.9 L1557.9,585.9 L1601.9,603.5 L1645.9,614.0 L1689.8,645.9 L1733.8,658.7 L1777.7,681.3 L1821.7,698.9 L1865.7,714.0 L1909.6,727.5 L1953.6,737.6 L1997.5,741.6 L2041.5,745.0" stroke="#969696"/><path d="M1162.3,660.0 L1206.3,474.1 L1250.2,432.2 L1294.2,447.3 L1338.1,464.3 L1382.1,466.6 L1426.1,534.9 L1470.0,536.0 L1514.0,534.9 L1557.9,585.9 L1601.9,603.5 L1645.9,614.0 L1689.8,645.9 L1733.8,658.7 L1777.7,681.3 L1821.7,698.9 L1865.7,714.0 L1909.6,727.5 L1953.6,737.6 L1997.5,741.6 L2041.5,745.0" stroke="#0000dc"/><path d="M1162.3,660.0 L1206.3,528.4 L1250.2,436.4 L1294.2,447.8 L1338.1,464.3 L1382.1,466.6 L1426.1,534.9 L1470.0,536.0 L1514.0,534.9 L1557.9,585.9 L1601.9,603.5 L1645.9,614.0 L1689.8,645.9 L1733.8,658.7 L1777.7,681.3 L1821.7,698.9 L1865.7,714.0 L1909.6,727.5 L1953.6,737.6 L1997.5,741.6 L2041.5,745.0" stroke="#0aa5c6"/><path d="M1162.3,769.8 L1206.3,689.7 L1250.2,480.1 L1294.2,448.2 L1338.1,464.3 L1382.1,466.3 L1426.1,534.9 L1470.0,536.0 L1514.0,534.9 L1557.9,585.9 L1601.9,603.5 L1645.9,614.0 L1689.8,645.9 L1733.8,658.7 L1777.7,681.3 L1821.7,698.9 L1865.7,714.0 L1909.6,727.5 L1953.6,737.6 L1997.5,741.6 L2041.5,745.0" stroke="#c6b400"/><path d="M1162.3,780.0 L1206.3,767.3 L1250.2,614.0 L1294.2,461.3 L1338.1,466.1 L1382.1,466.6 L1426.1,534.9 L1470.0,536.0 L1514.0,534.9 L1557.9,585.9 L1601.9,603.5 L1645.9,614.0 L1689.8,645.9 L1733.8,658.7 L1777.7,681.3 L1821.7,698.9 L1865.7,714.0 L1909.6,727.5 L1953.6,737.6 L1997.5,741.6 L2041.5,745.0" stroke="#d00000"/></g>
<path d="M1206.3,420.3V431.8M1206.3,780.8V768.9M1250.2,420.3V431.8M1250.2,780.8V768.9M1294.2,420.3V431.8M1294.2,780.8V768.9M1338.1,420.3V431.8M1338.1,780.8V768.9M1382.1,420.3V431.8M1382.1,780.8V768.9M1426.1,420.3V431.8M1426.1,780.8V768.9M1470.0,420.3V431.8M1470.0,780.8V768.9M1514.0,420.3V431.8M1514.0,780.8V768.9M1557.9,420.3V431.8M1557.9,780.8V768.9M1601.9,420.3V431.8M1601.9,780.8V768.9M1645.9,420.3V431.8M1645.9,780.8V768.9M1689.8,420.3V431.8M1689.8,780.8V768.9M1733.8,420.3V431.8M1733.8,780.8V768.9M1777.7,420.3V431.8M1777.7,780.8V768.9M1821.7,420.3V431.8M1821.7,780.8V768.9M1865.7,420.3V431.8M1865.7,780.8V768.9M1909.6,420.3V431.8M1909.6,780.8V768.9M1953.6,420.3V431.8M1953.6,780.8V768.9M1997.5,420.3V431.8M1997.5,780.8V768.9M1162,720.1H1174M2002,720.1H1990M1162,660.1H1174M2002,660.1H1990M1162,600.1H1174M2002,600.1H1990M1162,540.1H1174M2002,540.1H1990M1162,480.1H1174M2002,480.1H1990" stroke="#000" stroke-width="3.4"/>
<rect x="1162.1" y="420.3" width="839.9" height="360.5" stroke="#000" stroke-width="3.75"/>
<line x1="1682" y1="52.4" x2="1717.5" y2="52.4" stroke="#969696" stroke-width="3.5"/>
<line x1="1682" y1="83.3" x2="1717.5" y2="83.3" stroke="#0000dc" stroke-width="3.5"/>
<line x1="1682" y1="114.1" x2="1717.5" y2="114.1" stroke="#0aa5c6" stroke-width="3.5"/>
<line x1="1682" y1="145.0" x2="1717.5" y2="145.0" stroke="#c6b400" stroke-width="3.5"/>
<line x1="1682" y1="175.8" x2="1717.5" y2="175.8" stroke="#d00000" stroke-width="3.5"/>
</g>
<text transform="translate(1733.08,63.30) scale(0.9963,1)" font-size="28">Not levelled</text>
<text x="1733.07" y="94.20" font-size="28">Poly 0</text>
<text x="1733.07" y="125.00" font-size="28">Poly 1</text>
<text x="1733.07" y="155.90" font-size="28">Poly 3</text>
<text x="1733.07" y="186.75" font-size="28">Poly 5</text>
<text transform="translate(1131.28,300.60) scale(1.0593,1)" font-size="28">0</text>
<text transform="translate(1131.49,791.00) scale(1.0443,1)" font-size="28">0</text>
<text transform="translate(1508.18,398.00) scale(0.9940,1)" font-size="28">Distance [T]</text>
<text transform="translate(1443.64,816.30) scale(0.9936,1)" font-size="28">Spatial frequency [1/L]</text>
<text transform="translate(1125.60,310.04) rotate(-90) scale(0.9894,1)" font-size="28">Autocorrelation [a.u.]</text>
<text transform="translate(1125.80,735.13) rotate(-90) scale(0.9927,1)" font-size="28">Spectral density [a.u.]</text>
</svg></body></html>
